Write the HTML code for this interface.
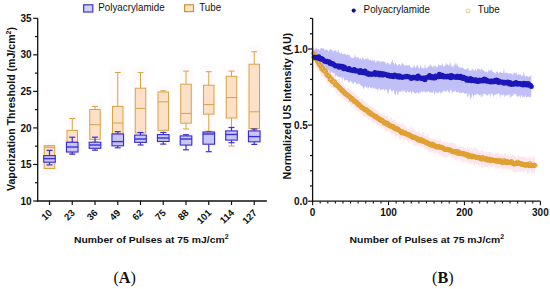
<!DOCTYPE html>
<html><head><meta charset="utf-8"><style>
html,body{margin:0;padding:0;background:#fff;width:550px;height:289px;overflow:hidden}
svg{display:block}
</style></head><body>
<svg width="550" height="289" viewBox="0 0 550 289">
<rect x="42.00" y="139.50" width="15" height="35.00" fill="#fffafb"/>
<rect x="64.75" y="112.50" width="15" height="46.50" fill="#fffafb"/>
<rect x="87.50" y="100.40" width="15" height="47.60" fill="#fffafb"/>
<rect x="110.25" y="66.50" width="15" height="79.50" fill="#fffafb"/>
<rect x="133.00" y="66.60" width="15" height="75.40" fill="#fffafb"/>
<rect x="155.75" y="84.80" width="15" height="53.70" fill="#fffafb"/>
<rect x="178.50" y="65.10" width="15" height="69.90" fill="#fffafb"/>
<rect x="201.25" y="65.70" width="15" height="71.50" fill="#fffafb"/>
<rect x="224.00" y="65.10" width="15" height="87.00" fill="#fffafb"/>
<rect x="246.75" y="45.80" width="15" height="91.20" fill="#fffafb"/>
<line x1="49.5" y1="145.5" x2="49.5" y2="145.7" stroke="#d6a444" stroke-width="1"/>
<line x1="49.5" y1="168.5" x2="49.5" y2="168.5" stroke="#d6a444" stroke-width="1"/>
<line x1="46.5" y1="145.5" x2="52.5" y2="145.5" stroke="#d6a444" stroke-width="1"/>
<line x1="46.5" y1="168.5" x2="52.5" y2="168.5" stroke="#d6a444" stroke-width="1"/>
<rect x="44.25" y="145.7" width="10.5" height="22.80" fill="#fde0c8" stroke="#d6a444" stroke-width="1"/>
<line x1="44.25" y1="147.3" x2="54.75" y2="147.3" stroke="#d6a444" stroke-width="1"/>
<line x1="72.25" y1="118.5" x2="72.25" y2="130.4" stroke="#d6a444" stroke-width="1"/>
<line x1="72.25" y1="150.0" x2="72.25" y2="153.0" stroke="#d6a444" stroke-width="1"/>
<line x1="69.25" y1="118.5" x2="75.25" y2="118.5" stroke="#d6a444" stroke-width="1"/>
<line x1="69.25" y1="153.0" x2="75.25" y2="153.0" stroke="#d6a444" stroke-width="1"/>
<rect x="67.00" y="130.4" width="10.5" height="19.60" fill="#fde0c8" stroke="#d6a444" stroke-width="1"/>
<line x1="67.00" y1="142.0" x2="77.50" y2="142.0" stroke="#d6a444" stroke-width="1"/>
<line x1="95.0" y1="106.4" x2="95.0" y2="109.5" stroke="#d6a444" stroke-width="1"/>
<line x1="95.0" y1="139.5" x2="95.0" y2="142.0" stroke="#d6a444" stroke-width="1"/>
<line x1="92.0" y1="106.4" x2="98.0" y2="106.4" stroke="#d6a444" stroke-width="1"/>
<line x1="92.0" y1="142.0" x2="98.0" y2="142.0" stroke="#d6a444" stroke-width="1"/>
<rect x="89.75" y="109.5" width="10.5" height="30.00" fill="#fde0c8" stroke="#d6a444" stroke-width="1"/>
<line x1="89.75" y1="124.7" x2="100.25" y2="124.7" stroke="#d6a444" stroke-width="1"/>
<line x1="117.75" y1="72.5" x2="117.75" y2="106.4" stroke="#d6a444" stroke-width="1"/>
<line x1="117.75" y1="134.0" x2="117.75" y2="140.0" stroke="#d6a444" stroke-width="1"/>
<line x1="114.75" y1="72.5" x2="120.75" y2="72.5" stroke="#d6a444" stroke-width="1"/>
<line x1="114.75" y1="140.0" x2="120.75" y2="140.0" stroke="#d6a444" stroke-width="1"/>
<rect x="112.50" y="106.4" width="10.5" height="27.60" fill="#fde0c8" stroke="#d6a444" stroke-width="1"/>
<line x1="112.50" y1="123.0" x2="123.00" y2="123.0" stroke="#d6a444" stroke-width="1"/>
<line x1="140.5" y1="72.6" x2="140.5" y2="88.2" stroke="#d6a444" stroke-width="1"/>
<line x1="140.5" y1="133.0" x2="140.5" y2="136.0" stroke="#d6a444" stroke-width="1"/>
<line x1="137.5" y1="72.6" x2="143.5" y2="72.6" stroke="#d6a444" stroke-width="1"/>
<line x1="137.5" y1="136.0" x2="143.5" y2="136.0" stroke="#d6a444" stroke-width="1"/>
<rect x="135.25" y="88.2" width="10.5" height="44.80" fill="#fde0c8" stroke="#d6a444" stroke-width="1"/>
<line x1="135.25" y1="108.4" x2="145.75" y2="108.4" stroke="#d6a444" stroke-width="1"/>
<line x1="163.25" y1="90.8" x2="163.25" y2="92.0" stroke="#d6a444" stroke-width="1"/>
<line x1="163.25" y1="130.3" x2="163.25" y2="132.5" stroke="#d6a444" stroke-width="1"/>
<line x1="160.25" y1="90.8" x2="166.25" y2="90.8" stroke="#d6a444" stroke-width="1"/>
<line x1="160.25" y1="132.5" x2="166.25" y2="132.5" stroke="#d6a444" stroke-width="1"/>
<rect x="158.00" y="92.0" width="10.5" height="38.30" fill="#fde0c8" stroke="#d6a444" stroke-width="1"/>
<line x1="158.00" y1="101.8" x2="168.50" y2="101.8" stroke="#d6a444" stroke-width="1"/>
<line x1="186.0" y1="71.1" x2="186.0" y2="84.2" stroke="#d6a444" stroke-width="1"/>
<line x1="186.0" y1="123.2" x2="186.0" y2="129.0" stroke="#d6a444" stroke-width="1"/>
<line x1="183.0" y1="71.1" x2="189.0" y2="71.1" stroke="#d6a444" stroke-width="1"/>
<line x1="183.0" y1="129.0" x2="189.0" y2="129.0" stroke="#d6a444" stroke-width="1"/>
<rect x="180.75" y="84.2" width="10.5" height="39.00" fill="#fde0c8" stroke="#d6a444" stroke-width="1"/>
<line x1="180.75" y1="113.4" x2="191.25" y2="113.4" stroke="#d6a444" stroke-width="1"/>
<line x1="208.75" y1="71.7" x2="208.75" y2="85.2" stroke="#d6a444" stroke-width="1"/>
<line x1="208.75" y1="114.1" x2="208.75" y2="131.2" stroke="#d6a444" stroke-width="1"/>
<line x1="205.75" y1="71.7" x2="211.75" y2="71.7" stroke="#d6a444" stroke-width="1"/>
<line x1="205.75" y1="131.2" x2="211.75" y2="131.2" stroke="#d6a444" stroke-width="1"/>
<rect x="203.50" y="85.2" width="10.5" height="28.90" fill="#fde0c8" stroke="#d6a444" stroke-width="1"/>
<line x1="203.50" y1="104.6" x2="214.00" y2="104.6" stroke="#d6a444" stroke-width="1"/>
<line x1="231.5" y1="71.1" x2="231.5" y2="76.3" stroke="#d6a444" stroke-width="1"/>
<line x1="231.5" y1="118.0" x2="231.5" y2="146.1" stroke="#d6a444" stroke-width="1"/>
<line x1="228.5" y1="71.1" x2="234.5" y2="71.1" stroke="#d6a444" stroke-width="1"/>
<line x1="228.5" y1="146.1" x2="234.5" y2="146.1" stroke="#d6a444" stroke-width="1"/>
<rect x="226.25" y="76.3" width="10.5" height="41.70" fill="#fde0c8" stroke="#d6a444" stroke-width="1"/>
<line x1="226.25" y1="97.6" x2="236.75" y2="97.6" stroke="#d6a444" stroke-width="1"/>
<line x1="254.25" y1="51.8" x2="254.25" y2="64.2" stroke="#d6a444" stroke-width="1"/>
<line x1="254.25" y1="128.5" x2="254.25" y2="131.0" stroke="#d6a444" stroke-width="1"/>
<line x1="251.25" y1="51.8" x2="257.25" y2="51.8" stroke="#d6a444" stroke-width="1"/>
<line x1="251.25" y1="131.0" x2="257.25" y2="131.0" stroke="#d6a444" stroke-width="1"/>
<rect x="249.00" y="64.2" width="10.5" height="64.30" fill="#fde0c8" stroke="#d6a444" stroke-width="1"/>
<line x1="249.00" y1="111.8" x2="259.50" y2="111.8" stroke="#d6a444" stroke-width="1"/>
<line x1="49.5" y1="150.4" x2="49.5" y2="155.6" stroke="#3c30d4" stroke-width="1.2"/>
<line x1="49.5" y1="162.2" x2="49.5" y2="164.9" stroke="#3c30d4" stroke-width="1.2"/>
<line x1="46.5" y1="150.4" x2="52.5" y2="150.4" stroke="#3c30d4" stroke-width="1.2"/>
<line x1="46.5" y1="164.9" x2="52.5" y2="164.9" stroke="#3c30d4" stroke-width="1.2"/>
<rect x="43.70" y="155.6" width="11.6" height="6.60" fill="#c8c6f4" stroke="#3c30d4" stroke-width="1.15"/>
<line x1="43.70" y1="158.6" x2="55.30" y2="158.6" stroke="#3c30d4" stroke-width="1.4"/>
<line x1="72.25" y1="137.2" x2="72.25" y2="142.3" stroke="#3c30d4" stroke-width="1.2"/>
<line x1="72.25" y1="152.0" x2="72.25" y2="154.2" stroke="#3c30d4" stroke-width="1.2"/>
<line x1="69.25" y1="137.2" x2="75.25" y2="137.2" stroke="#3c30d4" stroke-width="1.2"/>
<line x1="69.25" y1="154.2" x2="75.25" y2="154.2" stroke="#3c30d4" stroke-width="1.2"/>
<rect x="66.45" y="142.3" width="11.6" height="9.70" fill="#c8c6f4" stroke="#3c30d4" stroke-width="1.15"/>
<line x1="66.45" y1="147.0" x2="78.05" y2="147.0" stroke="#3c30d4" stroke-width="1.4"/>
<line x1="95.0" y1="137.2" x2="95.0" y2="142.2" stroke="#3c30d4" stroke-width="1.2"/>
<line x1="95.0" y1="148.3" x2="95.0" y2="150.2" stroke="#3c30d4" stroke-width="1.2"/>
<line x1="92.0" y1="137.2" x2="98.0" y2="137.2" stroke="#3c30d4" stroke-width="1.2"/>
<line x1="92.0" y1="150.2" x2="98.0" y2="150.2" stroke="#3c30d4" stroke-width="1.2"/>
<rect x="89.20" y="142.2" width="11.6" height="6.10" fill="#c8c6f4" stroke="#3c30d4" stroke-width="1.15"/>
<line x1="89.20" y1="145.0" x2="100.80" y2="145.0" stroke="#3c30d4" stroke-width="1.4"/>
<line x1="117.75" y1="131.7" x2="117.75" y2="134.0" stroke="#3c30d4" stroke-width="1.2"/>
<line x1="117.75" y1="145.8" x2="117.75" y2="147.8" stroke="#3c30d4" stroke-width="1.2"/>
<line x1="114.75" y1="131.7" x2="120.75" y2="131.7" stroke="#3c30d4" stroke-width="1.2"/>
<line x1="114.75" y1="147.8" x2="120.75" y2="147.8" stroke="#3c30d4" stroke-width="1.2"/>
<rect x="111.95" y="134.0" width="11.6" height="11.80" fill="#c8c6f4" stroke="#3c30d4" stroke-width="1.15"/>
<line x1="111.95" y1="141.6" x2="123.55" y2="141.6" stroke="#3c30d4" stroke-width="1.4"/>
<line x1="140.5" y1="132.5" x2="140.5" y2="135.1" stroke="#3c30d4" stroke-width="1.2"/>
<line x1="140.5" y1="142.4" x2="140.5" y2="145.0" stroke="#3c30d4" stroke-width="1.2"/>
<line x1="137.5" y1="132.5" x2="143.5" y2="132.5" stroke="#3c30d4" stroke-width="1.2"/>
<line x1="137.5" y1="145.0" x2="143.5" y2="145.0" stroke="#3c30d4" stroke-width="1.2"/>
<rect x="134.70" y="135.1" width="11.6" height="7.30" fill="#c8c6f4" stroke="#3c30d4" stroke-width="1.15"/>
<line x1="134.70" y1="139.0" x2="146.30" y2="139.0" stroke="#3c30d4" stroke-width="1.4"/>
<line x1="163.25" y1="132.5" x2="163.25" y2="134.6" stroke="#3c30d4" stroke-width="1.2"/>
<line x1="163.25" y1="141.5" x2="163.25" y2="144.1" stroke="#3c30d4" stroke-width="1.2"/>
<line x1="160.25" y1="132.5" x2="166.25" y2="132.5" stroke="#3c30d4" stroke-width="1.2"/>
<line x1="160.25" y1="144.1" x2="166.25" y2="144.1" stroke="#3c30d4" stroke-width="1.2"/>
<rect x="157.45" y="134.6" width="11.6" height="6.90" fill="#c8c6f4" stroke="#3c30d4" stroke-width="1.15"/>
<line x1="157.45" y1="138.0" x2="169.05" y2="138.0" stroke="#3c30d4" stroke-width="1.4"/>
<line x1="186.0" y1="134.7" x2="186.0" y2="135.9" stroke="#3c30d4" stroke-width="1.2"/>
<line x1="186.0" y1="145.1" x2="186.0" y2="149.8" stroke="#3c30d4" stroke-width="1.2"/>
<line x1="183.0" y1="134.7" x2="189.0" y2="134.7" stroke="#3c30d4" stroke-width="1.2"/>
<line x1="183.0" y1="149.8" x2="189.0" y2="149.8" stroke="#3c30d4" stroke-width="1.2"/>
<rect x="180.20" y="135.9" width="11.6" height="9.20" fill="#c8c6f4" stroke="#3c30d4" stroke-width="1.15"/>
<line x1="180.20" y1="139.0" x2="191.80" y2="139.0" stroke="#3c30d4" stroke-width="1.4"/>
<line x1="208.75" y1="132.1" x2="208.75" y2="132.0" stroke="#3c30d4" stroke-width="1.2"/>
<line x1="208.75" y1="144.2" x2="208.75" y2="151.7" stroke="#3c30d4" stroke-width="1.2"/>
<line x1="205.75" y1="132.1" x2="211.75" y2="132.1" stroke="#3c30d4" stroke-width="1.2"/>
<line x1="205.75" y1="151.7" x2="211.75" y2="151.7" stroke="#3c30d4" stroke-width="1.2"/>
<rect x="202.95" y="132.0" width="11.6" height="12.20" fill="#c8c6f4" stroke="#3c30d4" stroke-width="1.15"/>
<line x1="202.95" y1="134.0" x2="214.55" y2="134.0" stroke="#3c30d4" stroke-width="1.4"/>
<line x1="231.5" y1="127.5" x2="231.5" y2="130.9" stroke="#3c30d4" stroke-width="1.2"/>
<line x1="231.5" y1="140.1" x2="231.5" y2="142.7" stroke="#3c30d4" stroke-width="1.2"/>
<line x1="228.5" y1="127.5" x2="234.5" y2="127.5" stroke="#3c30d4" stroke-width="1.2"/>
<line x1="228.5" y1="142.7" x2="234.5" y2="142.7" stroke="#3c30d4" stroke-width="1.2"/>
<rect x="225.70" y="130.9" width="11.6" height="9.20" fill="#c8c6f4" stroke="#3c30d4" stroke-width="1.15"/>
<line x1="225.70" y1="134.5" x2="237.30" y2="134.5" stroke="#3c30d4" stroke-width="1.4"/>
<line x1="254.25" y1="129.0" x2="254.25" y2="130.9" stroke="#3c30d4" stroke-width="1.2"/>
<line x1="254.25" y1="141.8" x2="254.25" y2="144.4" stroke="#3c30d4" stroke-width="1.2"/>
<line x1="251.25" y1="129.0" x2="257.25" y2="129.0" stroke="#3c30d4" stroke-width="1.2"/>
<line x1="251.25" y1="144.4" x2="257.25" y2="144.4" stroke="#3c30d4" stroke-width="1.2"/>
<rect x="248.45" y="130.9" width="11.6" height="10.90" fill="#c8c6f4" stroke="#3c30d4" stroke-width="1.15"/>
<line x1="248.45" y1="136.6" x2="260.05" y2="136.6" stroke="#3c30d4" stroke-width="1.4"/>
<line x1="37.7" y1="18.3" x2="37.7" y2="201.6" stroke="#111" stroke-width="1.3"/>
<line x1="37.1" y1="201.0" x2="266.9" y2="201.0" stroke="#111" stroke-width="1.3"/>
<line x1="33.2" y1="201.00" x2="37.7" y2="201.00" stroke="#111" stroke-width="1.2"/>
<text x="31.6" y="204.60" text-anchor="end" style="font-family:'Liberation Sans',sans-serif;font-weight:bold;font-size:10px" fill="#111">10</text>
<line x1="34.900000000000006" y1="182.73" x2="37.7" y2="182.73" stroke="#111" stroke-width="1.2"/>
<line x1="33.2" y1="164.46" x2="37.7" y2="164.46" stroke="#111" stroke-width="1.2"/>
<text x="31.6" y="168.06" text-anchor="end" style="font-family:'Liberation Sans',sans-serif;font-weight:bold;font-size:10px" fill="#111">15</text>
<line x1="34.900000000000006" y1="146.19" x2="37.7" y2="146.19" stroke="#111" stroke-width="1.2"/>
<line x1="33.2" y1="127.92" x2="37.7" y2="127.92" stroke="#111" stroke-width="1.2"/>
<text x="31.6" y="131.52" text-anchor="end" style="font-family:'Liberation Sans',sans-serif;font-weight:bold;font-size:10px" fill="#111">20</text>
<line x1="34.900000000000006" y1="109.65" x2="37.7" y2="109.65" stroke="#111" stroke-width="1.2"/>
<line x1="33.2" y1="91.38" x2="37.7" y2="91.38" stroke="#111" stroke-width="1.2"/>
<text x="31.6" y="94.98" text-anchor="end" style="font-family:'Liberation Sans',sans-serif;font-weight:bold;font-size:10px" fill="#111">25</text>
<line x1="34.900000000000006" y1="73.11" x2="37.7" y2="73.11" stroke="#111" stroke-width="1.2"/>
<line x1="33.2" y1="54.84" x2="37.7" y2="54.84" stroke="#111" stroke-width="1.2"/>
<text x="31.6" y="58.44" text-anchor="end" style="font-family:'Liberation Sans',sans-serif;font-weight:bold;font-size:10px" fill="#111">30</text>
<line x1="34.900000000000006" y1="36.57" x2="37.7" y2="36.57" stroke="#111" stroke-width="1.2"/>
<line x1="33.2" y1="18.30" x2="37.7" y2="18.30" stroke="#111" stroke-width="1.2"/>
<text x="31.6" y="21.90" text-anchor="end" style="font-family:'Liberation Sans',sans-serif;font-weight:bold;font-size:10px" fill="#111">35</text>
<line x1="49.5" y1="201.0" x2="49.5" y2="205.0" stroke="#111" stroke-width="1.2"/>
<text transform="translate(52.70,213.40) rotate(-45)" text-anchor="end" style="font-family:'Liberation Sans',sans-serif;font-weight:bold;font-size:9.6px" fill="#111">10</text>
<line x1="72.25" y1="201.0" x2="72.25" y2="205.0" stroke="#111" stroke-width="1.2"/>
<text transform="translate(75.45,213.40) rotate(-45)" text-anchor="end" style="font-family:'Liberation Sans',sans-serif;font-weight:bold;font-size:9.6px" fill="#111">23</text>
<line x1="95.0" y1="201.0" x2="95.0" y2="205.0" stroke="#111" stroke-width="1.2"/>
<text transform="translate(98.20,213.40) rotate(-45)" text-anchor="end" style="font-family:'Liberation Sans',sans-serif;font-weight:bold;font-size:9.6px" fill="#111">36</text>
<line x1="117.75" y1="201.0" x2="117.75" y2="205.0" stroke="#111" stroke-width="1.2"/>
<text transform="translate(120.95,213.40) rotate(-45)" text-anchor="end" style="font-family:'Liberation Sans',sans-serif;font-weight:bold;font-size:9.6px" fill="#111">49</text>
<line x1="140.5" y1="201.0" x2="140.5" y2="205.0" stroke="#111" stroke-width="1.2"/>
<text transform="translate(143.70,213.40) rotate(-45)" text-anchor="end" style="font-family:'Liberation Sans',sans-serif;font-weight:bold;font-size:9.6px" fill="#111">62</text>
<line x1="163.25" y1="201.0" x2="163.25" y2="205.0" stroke="#111" stroke-width="1.2"/>
<text transform="translate(166.45,213.40) rotate(-45)" text-anchor="end" style="font-family:'Liberation Sans',sans-serif;font-weight:bold;font-size:9.6px" fill="#111">75</text>
<line x1="186.0" y1="201.0" x2="186.0" y2="205.0" stroke="#111" stroke-width="1.2"/>
<text transform="translate(189.20,213.40) rotate(-45)" text-anchor="end" style="font-family:'Liberation Sans',sans-serif;font-weight:bold;font-size:9.6px" fill="#111">88</text>
<line x1="208.75" y1="201.0" x2="208.75" y2="205.0" stroke="#111" stroke-width="1.2"/>
<text transform="translate(211.95,213.40) rotate(-45)" text-anchor="end" style="font-family:'Liberation Sans',sans-serif;font-weight:bold;font-size:9.6px" fill="#111">101</text>
<line x1="231.5" y1="201.0" x2="231.5" y2="205.0" stroke="#111" stroke-width="1.2"/>
<text transform="translate(234.70,213.40) rotate(-45)" text-anchor="end" style="font-family:'Liberation Sans',sans-serif;font-weight:bold;font-size:9.6px" fill="#111">114</text>
<line x1="254.25" y1="201.0" x2="254.25" y2="205.0" stroke="#111" stroke-width="1.2"/>
<text transform="translate(257.45,213.40) rotate(-45)" text-anchor="end" style="font-family:'Liberation Sans',sans-serif;font-weight:bold;font-size:9.6px" fill="#111">127</text>
<text transform="translate(74,243.2) scale(1,0.93)" style="font-family:'Liberation Sans',sans-serif;font-weight:bold;font-size:10.4px" fill="#111">Number of Pulses at 75 mJ/cm<tspan dy="-4" font-size="7px">2</tspan></text>
<text transform="translate(14.6,109.0) rotate(-90)" text-anchor="middle" style="font-family:'Liberation Sans',sans-serif;font-weight:bold;font-size:10.55px" fill="#111">Vaporization Threshold (mJ/cm<tspan dy="-4" font-size="7px">2</tspan><tspan dy="4">)</tspan></text>
<rect x="83.6" y="4.8" width="9.2" height="7.2" fill="#d4d2f8" stroke="#4a40c0" stroke-width="1.3"/>
<text transform="translate(98.3,11.2) scale(1,1.08)" style="font-family:'Liberation Sans',sans-serif;font-size:9.8px" fill="#111">Polyacrylamide</text>
<rect x="184.6" y="4.8" width="8.9" height="6.8" fill="#fde6c0" stroke="#d09040" stroke-width="1.2"/>
<text transform="translate(199.2,11.2) scale(1,1.08)" style="font-family:'Liberation Sans',sans-serif;font-size:9.8px" fill="#111">Tube</text>
<text x="124.7" y="282.6" text-anchor="middle" style="font-family:'Liberation Serif',serif;font-size:16.2px" fill="#111">(<tspan font-weight="bold">A</tspan>)</text>
<path d="M312.60,49.81 L313.36,47.80 L314.12,50.34 L314.88,49.97 L315.64,48.48 L316.40,47.51 L317.16,49.32 L317.92,49.77 L318.67,48.37 L319.43,50.15 L320.19,49.15 L320.95,47.46 L321.71,48.35 L322.47,48.22 L323.23,48.61 L323.99,48.43 L324.75,50.62 L325.51,49.44 L326.27,50.11 L327.03,48.83 L327.79,51.07 L328.55,51.57 L329.31,50.59 L330.06,48.95 L330.82,49.06 L331.58,49.91 L332.34,49.79 L333.10,52.50 L333.86,50.77 L334.62,50.22 L335.38,50.62 L336.14,50.34 L336.90,52.76 L337.66,51.98 L338.42,49.15 L339.18,53.62 L339.94,52.17 L340.70,54.51 L341.45,52.14 L342.21,53.93 L342.97,53.93 L343.73,54.18 L344.49,53.63 L345.25,53.70 L346.01,54.44 L346.77,55.35 L347.53,54.28 L348.29,54.72 L349.05,55.00 L349.81,54.69 L350.57,57.35 L351.33,57.66 L352.09,57.78 L352.84,57.99 L353.60,57.98 L354.36,56.97 L355.12,53.88 L355.88,58.41 L356.64,56.44 L357.40,57.14 L358.16,58.22 L358.92,56.79 L359.68,59.64 L360.44,57.59 L361.20,59.65 L361.96,59.05 L362.72,56.52 L363.48,58.16 L364.23,60.18 L364.99,59.06 L365.75,58.83 L366.51,59.19 L367.27,59.14 L368.03,57.33 L368.79,60.34 L369.55,60.30 L370.31,59.82 L371.07,60.19 L371.83,60.98 L372.59,59.80 L373.35,61.25 L374.11,59.93 L374.87,60.36 L375.62,62.96 L376.38,61.60 L377.14,59.63 L377.90,62.34 L378.66,60.60 L379.42,60.66 L380.18,62.66 L380.94,61.57 L381.70,61.00 L382.46,61.82 L383.22,61.25 L383.98,61.85 L384.74,61.98 L385.50,62.16 L386.26,64.43 L387.01,62.93 L387.77,62.43 L388.53,62.96 L389.29,64.80 L390.05,64.35 L390.81,63.34 L391.57,61.87 L392.33,59.59 L393.09,62.68 L393.85,63.22 L394.61,65.18 L395.37,62.04 L396.13,63.77 L396.89,65.21 L397.65,65.92 L398.40,64.70 L399.16,64.14 L399.92,64.04 L400.68,65.90 L401.44,64.77 L402.20,62.52 L402.96,63.93 L403.72,64.22 L404.48,65.40 L405.24,66.18 L406.00,64.61 L406.76,65.46 L407.52,65.18 L408.28,65.51 L409.04,65.32 L409.79,65.03 L410.55,67.56 L411.31,67.83 L412.07,67.61 L412.83,67.94 L413.59,65.85 L414.35,65.08 L415.11,67.42 L415.87,67.87 L416.63,65.48 L417.39,64.99 L418.15,66.71 L418.91,68.46 L419.67,68.14 L420.43,64.68 L421.18,66.42 L421.94,68.62 L422.70,67.36 L423.46,68.57 L424.22,68.65 L424.98,63.30 L425.74,68.38 L426.50,67.98 L427.26,68.06 L428.02,67.09 L428.78,66.06 L429.54,65.56 L430.30,64.28 L431.06,66.63 L431.82,65.38 L432.57,67.56 L433.33,66.64 L434.09,64.13 L434.85,67.47 L435.61,65.17 L436.37,67.22 L437.13,66.44 L437.89,67.27 L438.65,62.95 L439.41,65.23 L440.17,65.53 L440.93,65.16 L441.69,65.13 L442.45,62.82 L443.21,67.16 L443.96,65.64 L444.72,66.13 L445.48,64.87 L446.24,62.65 L447.00,65.16 L447.76,63.69 L448.52,66.27 L449.28,62.64 L450.04,66.27 L450.80,61.05 L451.56,66.84 L452.32,66.22 L453.08,67.39 L453.84,64.76 L454.60,64.84 L455.35,62.26 L456.11,66.68 L456.87,62.67 L457.63,65.00 L458.39,67.42 L459.15,65.52 L459.91,68.14 L460.67,67.13 L461.43,67.95 L462.19,66.28 L462.95,69.28 L463.71,67.64 L464.47,68.94 L465.23,69.59 L465.99,69.45 L466.74,69.36 L467.50,68.02 L468.26,68.03 L469.02,70.32 L469.78,70.78 L470.54,71.28 L471.30,69.27 L472.06,70.82 L472.82,67.76 L473.58,69.70 L474.34,71.70 L475.10,68.86 L475.86,69.76 L476.62,71.27 L477.38,68.65 L478.13,68.61 L478.89,69.11 L479.65,69.30 L480.41,70.68 L481.17,67.73 L481.93,70.09 L482.69,69.11 L483.45,70.69 L484.21,70.72 L484.97,71.43 L485.73,72.17 L486.49,71.11 L487.25,72.60 L488.01,72.21 L488.77,69.34 L489.52,71.01 L490.28,69.57 L491.04,71.19 L491.80,68.76 L492.56,72.25 L493.32,72.03 L494.08,72.61 L494.84,73.13 L495.60,73.60 L496.36,72.05 L497.12,70.77 L497.88,72.62 L498.64,74.12 L499.40,72.57 L500.16,71.96 L500.91,71.85 L501.67,73.16 L502.43,72.93 L503.19,72.95 L503.95,68.05 L504.71,73.18 L505.47,72.66 L506.23,72.72 L506.99,72.52 L507.75,73.61 L508.51,73.34 L509.27,73.76 L510.03,73.49 L510.79,73.26 L511.55,73.44 L512.30,73.99 L513.06,75.59 L513.82,71.69 L514.58,73.06 L515.34,73.87 L516.10,72.18 L516.86,73.83 L517.62,75.43 L518.38,74.12 L519.14,74.95 L519.90,74.44 L520.66,74.27 L521.42,76.53 L522.18,75.73 L522.94,75.41 L523.69,71.25 L524.45,75.35 L525.21,77.15 L525.97,75.58 L526.73,76.24 L527.49,76.04 L528.25,77.36 L529.01,76.50 L529.77,76.07 L530.53,77.09 L531.29,73.62 L531.29,95.51 L530.53,97.64 L529.77,96.16 L529.01,98.06 L528.25,96.27 L527.49,96.64 L526.73,97.21 L525.97,97.41 L525.21,94.85 L524.45,97.62 L523.69,96.42 L522.94,97.40 L522.18,96.44 L521.42,94.38 L520.66,98.69 L519.90,94.63 L519.14,96.78 L518.38,96.13 L517.62,96.66 L516.86,96.57 L516.10,94.28 L515.34,94.05 L514.58,93.70 L513.82,94.01 L513.06,96.08 L512.30,95.35 L511.55,97.54 L510.79,94.56 L510.03,99.46 L509.27,94.07 L508.51,95.06 L507.75,94.78 L506.99,95.38 L506.23,95.41 L505.47,95.18 L504.71,97.84 L503.95,93.68 L503.19,95.10 L502.43,95.61 L501.67,94.64 L500.91,94.40 L500.16,98.06 L499.40,94.05 L498.64,93.08 L497.88,94.35 L497.12,94.33 L496.36,94.28 L495.60,94.38 L494.84,94.94 L494.08,94.50 L493.32,97.64 L492.56,94.06 L491.80,93.31 L491.04,93.98 L490.28,97.17 L489.52,94.23 L488.77,93.69 L488.01,94.73 L487.25,95.91 L486.49,94.67 L485.73,94.41 L484.97,93.55 L484.21,94.17 L483.45,93.79 L482.69,97.13 L481.93,93.99 L481.17,98.82 L480.41,94.45 L479.65,95.86 L478.89,94.56 L478.13,94.60 L477.38,93.79 L476.62,93.51 L475.86,95.41 L475.10,94.59 L474.34,94.91 L473.58,98.12 L472.82,94.47 L472.06,94.42 L471.30,97.89 L470.54,99.76 L469.78,95.45 L469.02,92.99 L468.26,96.74 L467.50,97.25 L466.74,92.44 L465.99,93.72 L465.23,93.91 L464.47,93.62 L463.71,92.14 L462.95,93.47 L462.19,91.81 L461.43,93.73 L460.67,93.01 L459.91,92.58 L459.15,93.72 L458.39,91.41 L457.63,92.39 L456.87,92.35 L456.11,92.09 L455.35,90.22 L454.60,91.93 L453.84,91.15 L453.08,91.73 L452.32,93.84 L451.56,90.67 L450.80,89.72 L450.04,90.83 L449.28,93.84 L448.52,91.86 L447.76,90.84 L447.00,89.28 L446.24,92.30 L445.48,91.64 L444.72,90.56 L443.96,91.95 L443.21,89.94 L442.45,92.31 L441.69,92.12 L440.93,95.01 L440.17,91.42 L439.41,91.48 L438.65,92.73 L437.89,92.90 L437.13,93.05 L436.37,92.69 L435.61,90.73 L434.85,95.39 L434.09,93.45 L433.33,90.82 L432.57,92.90 L431.82,92.47 L431.06,92.65 L430.30,91.65 L429.54,93.30 L428.78,90.96 L428.02,92.05 L427.26,91.50 L426.50,91.68 L425.74,92.93 L424.98,91.29 L424.22,91.78 L423.46,91.57 L422.70,91.73 L421.94,91.62 L421.18,91.46 L420.43,92.69 L419.67,92.08 L418.91,94.39 L418.15,93.02 L417.39,92.10 L416.63,93.10 L415.87,92.75 L415.11,94.25 L414.35,92.92 L413.59,92.00 L412.83,91.14 L412.07,92.09 L411.31,94.80 L410.55,90.72 L409.79,91.95 L409.04,92.88 L408.28,91.57 L407.52,90.77 L406.76,92.46 L406.00,92.69 L405.24,92.34 L404.48,90.73 L403.72,90.24 L402.96,92.53 L402.20,90.00 L401.44,92.08 L400.68,91.49 L399.92,92.00 L399.16,90.80 L398.40,94.76 L397.65,94.75 L396.89,90.21 L396.13,92.05 L395.37,95.17 L394.61,94.13 L393.85,90.02 L393.09,90.26 L392.33,91.22 L391.57,91.54 L390.81,89.58 L390.05,88.60 L389.29,89.41 L388.53,93.78 L387.77,93.96 L387.01,90.17 L386.26,89.58 L385.50,88.67 L384.74,90.83 L383.98,90.23 L383.22,88.77 L382.46,89.67 L381.70,89.08 L380.94,90.39 L380.18,90.07 L379.42,88.25 L378.66,88.43 L377.90,91.79 L377.14,89.05 L376.38,88.69 L375.62,89.13 L374.87,87.35 L374.11,89.38 L373.35,88.50 L372.59,86.76 L371.83,89.44 L371.07,87.32 L370.31,87.94 L369.55,86.45 L368.79,87.28 L368.03,89.99 L367.27,86.15 L366.51,88.06 L365.75,85.74 L364.99,86.56 L364.23,87.58 L363.48,89.70 L362.72,86.13 L361.96,86.12 L361.20,85.63 L360.44,84.63 L359.68,84.02 L358.92,83.35 L358.16,83.90 L357.40,83.70 L356.64,85.14 L355.88,82.13 L355.12,82.32 L354.36,81.74 L353.60,83.55 L352.84,84.65 L352.09,81.61 L351.33,82.06 L350.57,80.39 L349.81,82.64 L349.05,81.13 L348.29,83.34 L347.53,79.74 L346.77,80.38 L346.01,79.51 L345.25,79.91 L344.49,81.01 L343.73,78.55 L342.97,76.57 L342.21,81.74 L341.45,76.21 L340.70,77.48 L339.94,77.47 L339.18,77.11 L338.42,76.81 L337.66,76.88 L336.90,75.70 L336.14,74.93 L335.38,76.50 L334.62,72.95 L333.86,72.99 L333.10,73.13 L332.34,72.40 L331.58,71.36 L330.82,72.73 L330.06,74.26 L329.31,70.55 L328.55,69.93 L327.79,69.64 L327.03,70.48 L326.27,71.62 L325.51,67.20 L324.75,67.58 L323.99,69.20 L323.23,67.42 L322.47,67.06 L321.71,67.52 L320.95,67.25 L320.19,64.19 L319.43,64.19 L318.67,66.84 L317.92,62.68 L317.16,65.94 L316.40,62.78 L315.64,61.08 L314.88,60.35 L314.12,60.44 L313.36,61.27 L312.60,64.02Z" fill="#c0c0f6"/>
<path d="M312.60,44.05 L313.36,46.53 L314.12,46.72 L314.88,47.72 L315.64,50.02 L316.40,51.44 L317.16,52.96 L317.92,55.81 L318.67,56.07 L319.43,58.68 L320.19,60.08 L320.95,57.66 L321.71,60.90 L322.47,60.25 L323.23,63.36 L323.99,63.68 L324.75,64.59 L325.51,63.51 L326.27,65.88 L327.03,68.57 L327.79,67.63 L328.55,69.01 L329.31,70.10 L330.06,68.74 L330.82,71.42 L331.58,73.74 L332.34,74.11 L333.10,75.70 L333.86,73.82 L334.62,73.48 L335.38,74.65 L336.14,78.83 L336.90,78.69 L337.66,79.67 L338.42,78.07 L339.18,78.49 L339.94,82.32 L340.70,80.55 L341.45,80.38 L342.21,80.97 L342.97,85.49 L343.73,83.64 L344.49,86.62 L345.25,84.72 L346.01,84.88 L346.77,88.77 L347.53,87.38 L348.29,87.65 L349.05,87.83 L349.81,89.10 L350.57,90.66 L351.33,89.84 L352.09,90.49 L352.84,93.09 L353.60,91.00 L354.36,92.21 L355.12,93.72 L355.88,93.44 L356.64,96.14 L357.40,94.43 L358.16,95.84 L358.92,95.60 L359.68,98.64 L360.44,99.31 L361.20,98.59 L361.96,97.97 L362.72,98.76 L363.48,99.19 L364.23,102.13 L364.99,100.55 L365.75,100.68 L366.51,104.54 L367.27,102.24 L368.03,102.97 L368.79,105.57 L369.55,104.32 L370.31,106.73 L371.07,105.08 L371.83,106.76 L372.59,105.89 L373.35,108.69 L374.11,106.54 L374.87,108.55 L375.62,108.77 L376.38,110.85 L377.14,109.31 L377.90,110.34 L378.66,111.01 L379.42,113.38 L380.18,112.53 L380.94,111.97 L381.70,114.34 L382.46,114.05 L383.22,115.80 L383.98,112.38 L384.74,114.85 L385.50,116.19 L386.26,115.98 L387.01,115.06 L387.77,114.71 L388.53,118.84 L389.29,118.70 L390.05,119.65 L390.81,116.79 L391.57,116.91 L392.33,120.86 L393.09,119.94 L393.85,118.10 L394.61,120.08 L395.37,118.92 L396.13,121.57 L396.89,122.90 L397.65,119.97 L398.40,124.17 L399.16,123.31 L399.92,121.48 L400.68,125.30 L401.44,123.03 L402.20,122.30 L402.96,126.04 L403.72,123.23 L404.48,126.16 L405.24,124.69 L406.00,126.79 L406.76,127.94 L407.52,128.12 L408.28,128.58 L409.04,129.45 L409.79,129.07 L410.55,126.49 L411.31,126.81 L412.07,127.33 L412.83,129.43 L413.59,127.84 L414.35,129.38 L415.11,130.86 L415.87,130.64 L416.63,132.31 L417.39,132.98 L418.15,131.31 L418.91,130.36 L419.67,132.51 L420.43,133.39 L421.18,133.45 L421.94,133.13 L422.70,131.79 L423.46,131.79 L424.22,132.43 L424.98,135.47 L425.74,135.47 L426.50,136.10 L427.26,133.24 L428.02,133.79 L428.78,136.62 L429.54,137.84 L430.30,137.18 L431.06,138.57 L431.82,137.55 L432.57,139.19 L433.33,137.37 L434.09,138.00 L434.85,139.14 L435.61,139.73 L436.37,137.47 L437.13,140.03 L437.89,140.73 L438.65,139.36 L439.41,140.78 L440.17,139.03 L440.93,139.78 L441.69,142.10 L442.45,140.98 L443.21,142.64 L443.96,141.77 L444.72,139.89 L445.48,143.53 L446.24,141.93 L447.00,143.00 L447.76,140.98 L448.52,143.88 L449.28,142.39 L450.04,142.92 L450.80,143.16 L451.56,142.59 L452.32,142.20 L453.08,143.04 L453.84,143.10 L454.60,142.83 L455.35,144.55 L456.11,144.62 L456.87,146.87 L457.63,146.26 L458.39,146.95 L459.15,144.30 L459.91,147.38 L460.67,147.18 L461.43,145.76 L462.19,146.26 L462.95,148.13 L463.71,145.86 L464.47,148.43 L465.23,147.10 L465.99,148.80 L466.74,148.92 L467.50,146.21 L468.26,147.54 L469.02,149.34 L469.78,146.43 L470.54,148.66 L471.30,148.41 L472.06,146.92 L472.82,149.49 L473.58,149.67 L474.34,147.25 L475.10,147.68 L475.86,148.10 L476.62,149.58 L477.38,148.07 L478.13,150.27 L478.89,150.65 L479.65,151.98 L480.41,150.39 L481.17,151.99 L481.93,149.59 L482.69,150.31 L483.45,149.44 L484.21,152.98 L484.97,152.19 L485.73,152.30 L486.49,149.83 L487.25,152.66 L488.01,152.06 L488.77,152.78 L489.52,151.47 L490.28,151.81 L491.04,152.26 L491.80,152.57 L492.56,153.97 L493.32,154.16 L494.08,153.18 L494.84,153.95 L495.60,152.86 L496.36,152.73 L497.12,152.68 L497.88,152.56 L498.64,153.32 L499.40,153.75 L500.16,154.77 L500.91,153.80 L501.67,153.62 L502.43,154.67 L503.19,155.23 L503.95,154.33 L504.71,152.45 L505.47,153.42 L506.23,156.35 L506.99,154.96 L507.75,155.27 L508.51,153.99 L509.27,156.13 L510.03,154.18 L510.79,155.89 L511.55,154.63 L512.30,154.03 L513.06,155.46 L513.82,154.66 L514.58,155.83 L515.34,154.99 L516.10,157.41 L516.86,158.00 L517.62,155.77 L518.38,154.36 L519.14,156.63 L519.90,154.90 L520.66,156.97 L521.42,156.75 L522.18,157.50 L522.94,156.54 L523.69,157.56 L524.45,155.54 L525.21,157.25 L525.97,157.90 L526.73,156.90 L527.49,158.94 L528.25,158.08 L529.01,156.11 L529.77,158.73 L530.53,155.99 L531.29,159.53 L532.05,157.81 L532.81,156.79 L533.57,155.98 L534.33,157.98 L535.08,158.57 L535.08,172.56 L534.33,173.79 L533.57,173.04 L532.81,173.04 L532.05,174.48 L531.29,172.98 L530.53,170.68 L529.77,172.26 L529.01,174.30 L528.25,173.75 L527.49,173.97 L526.73,172.53 L525.97,170.70 L525.21,170.77 L524.45,171.94 L523.69,173.00 L522.94,171.30 L522.18,171.23 L521.42,172.47 L520.66,171.30 L519.90,171.82 L519.14,172.44 L518.38,171.49 L517.62,171.10 L516.86,172.08 L516.10,172.41 L515.34,172.48 L514.58,171.87 L513.82,171.67 L513.06,171.49 L512.30,171.72 L511.55,170.80 L510.79,169.64 L510.03,168.75 L509.27,171.87 L508.51,168.36 L507.75,169.58 L506.99,167.97 L506.23,171.10 L505.47,168.14 L504.71,168.58 L503.95,168.43 L503.19,169.41 L502.43,170.52 L501.67,167.01 L500.91,168.39 L500.16,167.63 L499.40,167.87 L498.64,168.97 L497.88,168.24 L497.12,167.09 L496.36,168.45 L495.60,169.41 L494.84,166.28 L494.08,166.96 L493.32,166.86 L492.56,166.06 L491.80,167.57 L491.04,166.38 L490.28,169.01 L489.52,165.54 L488.77,166.15 L488.01,168.60 L487.25,166.74 L486.49,167.01 L485.73,166.56 L484.97,166.97 L484.21,166.69 L483.45,167.52 L482.69,167.08 L481.93,167.44 L481.17,167.43 L480.41,163.49 L479.65,164.99 L478.89,165.23 L478.13,165.49 L477.38,163.80 L476.62,166.48 L475.86,162.71 L475.10,165.59 L474.34,165.39 L473.58,163.76 L472.82,162.81 L472.06,164.79 L471.30,163.10 L470.54,164.71 L469.78,162.73 L469.02,164.31 L468.26,163.81 L467.50,161.24 L466.74,162.84 L465.99,161.91 L465.23,161.22 L464.47,161.89 L463.71,159.91 L462.95,163.02 L462.19,162.16 L461.43,161.46 L460.67,159.03 L459.91,161.56 L459.15,158.68 L458.39,159.36 L457.63,158.89 L456.87,161.82 L456.11,159.89 L455.35,159.58 L454.60,161.13 L453.84,157.35 L453.08,158.41 L452.32,157.95 L451.56,159.71 L450.80,156.70 L450.04,157.78 L449.28,155.79 L448.52,157.02 L447.76,156.77 L447.00,155.81 L446.24,158.32 L445.48,158.23 L444.72,156.32 L443.96,157.48 L443.21,157.11 L442.45,156.50 L441.69,156.30 L440.93,153.92 L440.17,156.11 L439.41,155.05 L438.65,153.44 L437.89,154.52 L437.13,152.14 L436.37,154.40 L435.61,152.01 L434.85,153.30 L434.09,154.39 L433.33,151.22 L432.57,153.52 L431.82,150.48 L431.06,152.86 L430.30,153.27 L429.54,151.98 L428.78,152.37 L428.02,148.88 L427.26,152.19 L426.50,149.36 L425.74,148.64 L424.98,149.22 L424.22,149.69 L423.46,146.94 L422.70,146.86 L421.94,147.37 L421.18,146.46 L420.43,148.83 L419.67,145.78 L418.91,145.91 L418.15,145.10 L417.39,147.06 L416.63,144.77 L415.87,146.07 L415.11,146.52 L414.35,144.70 L413.59,145.93 L412.83,142.61 L412.07,142.44 L411.31,145.01 L410.55,142.08 L409.79,141.00 L409.04,143.37 L408.28,142.86 L407.52,140.75 L406.76,141.37 L406.00,140.11 L405.24,139.14 L404.48,140.72 L403.72,140.69 L402.96,140.63 L402.20,137.46 L401.44,139.45 L400.68,139.63 L399.92,139.45 L399.16,139.33 L398.40,136.35 L397.65,135.82 L396.89,138.41 L396.13,135.94 L395.37,136.42 L394.61,135.90 L393.85,133.96 L393.09,133.00 L392.33,134.50 L391.57,135.33 L390.81,133.11 L390.05,133.08 L389.29,130.76 L388.53,130.80 L387.77,130.58 L387.01,132.40 L386.26,132.47 L385.50,131.36 L384.74,130.06 L383.98,130.81 L383.22,127.02 L382.46,128.51 L381.70,128.36 L380.94,128.65 L380.18,125.46 L379.42,128.55 L378.66,124.68 L377.90,125.21 L377.14,124.56 L376.38,123.35 L375.62,122.89 L374.87,123.54 L374.11,124.67 L373.35,122.94 L372.59,123.20 L371.83,119.95 L371.07,122.25 L370.31,119.58 L369.55,119.89 L368.79,119.93 L368.03,120.69 L367.27,117.23 L366.51,118.10 L365.75,116.72 L364.99,117.52 L364.23,117.63 L363.48,115.95 L362.72,116.34 L361.96,112.69 L361.20,115.20 L360.44,113.05 L359.68,110.78 L358.92,113.41 L358.16,111.99 L357.40,110.49 L356.64,110.09 L355.88,110.17 L355.12,111.06 L354.36,107.85 L353.60,108.71 L352.84,105.51 L352.09,106.89 L351.33,107.76 L350.57,104.88 L349.81,105.20 L349.05,103.47 L348.29,101.93 L347.53,102.44 L346.77,101.48 L346.01,101.27 L345.25,99.30 L344.49,99.19 L343.73,100.51 L342.97,96.60 L342.21,98.69 L341.45,96.12 L340.70,96.23 L339.94,96.17 L339.18,95.83 L338.42,95.03 L337.66,91.62 L336.90,93.60 L336.14,92.77 L335.38,89.64 L334.62,88.70 L333.86,88.04 L333.10,86.78 L332.34,86.57 L331.58,87.72 L330.82,85.97 L330.06,87.41 L329.31,85.02 L328.55,81.85 L327.79,84.60 L327.03,83.29 L326.27,79.31 L325.51,78.46 L324.75,79.88 L323.99,77.64 L323.23,76.60 L322.47,76.65 L321.71,76.67 L320.95,74.94 L320.19,74.32 L319.43,70.81 L318.67,71.95 L317.92,70.32 L317.16,69.07 L316.40,67.74 L315.64,65.94 L314.88,65.52 L314.12,62.79 L313.36,61.98 L312.60,56.27Z" fill="#f7a0b8" fill-opacity="0.25"/>
<path d="M311.36,53.24a2.0,2.0 0 1,0 4.0,0a2.0,2.0 0 1,0 -4.0,0M312.12,54.20a2.0,2.0 0 1,0 4.0,0a2.0,2.0 0 1,0 -4.0,0M312.88,56.06a2.0,2.0 0 1,0 4.0,0a2.0,2.0 0 1,0 -4.0,0M313.64,58.82a2.0,2.0 0 1,0 4.0,0a2.0,2.0 0 1,0 -4.0,0M314.40,59.16a2.0,2.0 0 1,0 4.0,0a2.0,2.0 0 1,0 -4.0,0M315.16,60.57a2.0,2.0 0 1,0 4.0,0a2.0,2.0 0 1,0 -4.0,0M315.92,62.11a2.0,2.0 0 1,0 4.0,0a2.0,2.0 0 1,0 -4.0,0M316.67,62.97a2.0,2.0 0 1,0 4.0,0a2.0,2.0 0 1,0 -4.0,0M317.43,65.02a2.0,2.0 0 1,0 4.0,0a2.0,2.0 0 1,0 -4.0,0M318.19,65.00a2.0,2.0 0 1,0 4.0,0a2.0,2.0 0 1,0 -4.0,0M318.95,66.52a2.0,2.0 0 1,0 4.0,0a2.0,2.0 0 1,0 -4.0,0M319.71,69.00a2.0,2.0 0 1,0 4.0,0a2.0,2.0 0 1,0 -4.0,0M320.47,67.84a2.0,2.0 0 1,0 4.0,0a2.0,2.0 0 1,0 -4.0,0M321.23,69.25a2.0,2.0 0 1,0 4.0,0a2.0,2.0 0 1,0 -4.0,0M321.99,70.92a2.0,2.0 0 1,0 4.0,0a2.0,2.0 0 1,0 -4.0,0M322.75,70.40a2.0,2.0 0 1,0 4.0,0a2.0,2.0 0 1,0 -4.0,0M323.51,71.33a2.0,2.0 0 1,0 4.0,0a2.0,2.0 0 1,0 -4.0,0M324.27,73.24a2.0,2.0 0 1,0 4.0,0a2.0,2.0 0 1,0 -4.0,0M325.03,75.16a2.0,2.0 0 1,0 4.0,0a2.0,2.0 0 1,0 -4.0,0M325.79,75.57a2.0,2.0 0 1,0 4.0,0a2.0,2.0 0 1,0 -4.0,0M326.55,75.96a2.0,2.0 0 1,0 4.0,0a2.0,2.0 0 1,0 -4.0,0M327.31,76.46a2.0,2.0 0 1,0 4.0,0a2.0,2.0 0 1,0 -4.0,0M328.06,79.50a2.0,2.0 0 1,0 4.0,0a2.0,2.0 0 1,0 -4.0,0M328.82,79.15a2.0,2.0 0 1,0 4.0,0a2.0,2.0 0 1,0 -4.0,0M329.58,79.01a2.0,2.0 0 1,0 4.0,0a2.0,2.0 0 1,0 -4.0,0M330.34,81.44a2.0,2.0 0 1,0 4.0,0a2.0,2.0 0 1,0 -4.0,0M331.10,82.08a2.0,2.0 0 1,0 4.0,0a2.0,2.0 0 1,0 -4.0,0M331.86,81.65a2.0,2.0 0 1,0 4.0,0a2.0,2.0 0 1,0 -4.0,0M332.62,81.81a2.0,2.0 0 1,0 4.0,0a2.0,2.0 0 1,0 -4.0,0M333.38,84.88a2.0,2.0 0 1,0 4.0,0a2.0,2.0 0 1,0 -4.0,0M334.14,84.32a2.0,2.0 0 1,0 4.0,0a2.0,2.0 0 1,0 -4.0,0M334.90,84.85a2.0,2.0 0 1,0 4.0,0a2.0,2.0 0 1,0 -4.0,0M335.66,86.09a2.0,2.0 0 1,0 4.0,0a2.0,2.0 0 1,0 -4.0,0M336.42,86.49a2.0,2.0 0 1,0 4.0,0a2.0,2.0 0 1,0 -4.0,0M337.18,88.11a2.0,2.0 0 1,0 4.0,0a2.0,2.0 0 1,0 -4.0,0M337.94,87.77a2.0,2.0 0 1,0 4.0,0a2.0,2.0 0 1,0 -4.0,0M338.70,88.87a2.0,2.0 0 1,0 4.0,0a2.0,2.0 0 1,0 -4.0,0M339.45,89.96a2.0,2.0 0 1,0 4.0,0a2.0,2.0 0 1,0 -4.0,0M340.21,91.10a2.0,2.0 0 1,0 4.0,0a2.0,2.0 0 1,0 -4.0,0M340.97,90.59a2.0,2.0 0 1,0 4.0,0a2.0,2.0 0 1,0 -4.0,0M341.73,91.41a2.0,2.0 0 1,0 4.0,0a2.0,2.0 0 1,0 -4.0,0M342.49,93.30a2.0,2.0 0 1,0 4.0,0a2.0,2.0 0 1,0 -4.0,0M343.25,93.10a2.0,2.0 0 1,0 4.0,0a2.0,2.0 0 1,0 -4.0,0M344.01,94.42a2.0,2.0 0 1,0 4.0,0a2.0,2.0 0 1,0 -4.0,0M344.77,94.67a2.0,2.0 0 1,0 4.0,0a2.0,2.0 0 1,0 -4.0,0M345.53,95.30a2.0,2.0 0 1,0 4.0,0a2.0,2.0 0 1,0 -4.0,0M346.29,95.36a2.0,2.0 0 1,0 4.0,0a2.0,2.0 0 1,0 -4.0,0M347.05,96.50a2.0,2.0 0 1,0 4.0,0a2.0,2.0 0 1,0 -4.0,0M347.81,97.13a2.0,2.0 0 1,0 4.0,0a2.0,2.0 0 1,0 -4.0,0M348.57,97.45a2.0,2.0 0 1,0 4.0,0a2.0,2.0 0 1,0 -4.0,0M349.33,99.57a2.0,2.0 0 1,0 4.0,0a2.0,2.0 0 1,0 -4.0,0M350.09,98.36a2.0,2.0 0 1,0 4.0,0a2.0,2.0 0 1,0 -4.0,0M350.84,99.30a2.0,2.0 0 1,0 4.0,0a2.0,2.0 0 1,0 -4.0,0M351.60,100.63a2.0,2.0 0 1,0 4.0,0a2.0,2.0 0 1,0 -4.0,0M352.36,101.69a2.0,2.0 0 1,0 4.0,0a2.0,2.0 0 1,0 -4.0,0M353.12,101.20a2.0,2.0 0 1,0 4.0,0a2.0,2.0 0 1,0 -4.0,0M353.88,102.11a2.0,2.0 0 1,0 4.0,0a2.0,2.0 0 1,0 -4.0,0M354.64,102.43a2.0,2.0 0 1,0 4.0,0a2.0,2.0 0 1,0 -4.0,0M355.40,102.89a2.0,2.0 0 1,0 4.0,0a2.0,2.0 0 1,0 -4.0,0M356.16,104.87a2.0,2.0 0 1,0 4.0,0a2.0,2.0 0 1,0 -4.0,0M356.92,104.67a2.0,2.0 0 1,0 4.0,0a2.0,2.0 0 1,0 -4.0,0M357.68,105.01a2.0,2.0 0 1,0 4.0,0a2.0,2.0 0 1,0 -4.0,0M358.44,106.02a2.0,2.0 0 1,0 4.0,0a2.0,2.0 0 1,0 -4.0,0M359.20,107.00a2.0,2.0 0 1,0 4.0,0a2.0,2.0 0 1,0 -4.0,0M359.96,107.86a2.0,2.0 0 1,0 4.0,0a2.0,2.0 0 1,0 -4.0,0M360.72,107.81a2.0,2.0 0 1,0 4.0,0a2.0,2.0 0 1,0 -4.0,0M361.48,108.33a2.0,2.0 0 1,0 4.0,0a2.0,2.0 0 1,0 -4.0,0M362.23,109.07a2.0,2.0 0 1,0 4.0,0a2.0,2.0 0 1,0 -4.0,0M362.99,109.92a2.0,2.0 0 1,0 4.0,0a2.0,2.0 0 1,0 -4.0,0M363.75,110.20a2.0,2.0 0 1,0 4.0,0a2.0,2.0 0 1,0 -4.0,0M364.51,109.64a2.0,2.0 0 1,0 4.0,0a2.0,2.0 0 1,0 -4.0,0M365.27,111.00a2.0,2.0 0 1,0 4.0,0a2.0,2.0 0 1,0 -4.0,0M366.03,111.27a2.0,2.0 0 1,0 4.0,0a2.0,2.0 0 1,0 -4.0,0M366.79,113.03a2.0,2.0 0 1,0 4.0,0a2.0,2.0 0 1,0 -4.0,0M367.55,112.61a2.0,2.0 0 1,0 4.0,0a2.0,2.0 0 1,0 -4.0,0M368.31,112.64a2.0,2.0 0 1,0 4.0,0a2.0,2.0 0 1,0 -4.0,0M369.07,114.44a2.0,2.0 0 1,0 4.0,0a2.0,2.0 0 1,0 -4.0,0M369.83,113.88a2.0,2.0 0 1,0 4.0,0a2.0,2.0 0 1,0 -4.0,0M370.59,114.91a2.0,2.0 0 1,0 4.0,0a2.0,2.0 0 1,0 -4.0,0M371.35,115.10a2.0,2.0 0 1,0 4.0,0a2.0,2.0 0 1,0 -4.0,0M372.11,115.90a2.0,2.0 0 1,0 4.0,0a2.0,2.0 0 1,0 -4.0,0M372.87,116.78a2.0,2.0 0 1,0 4.0,0a2.0,2.0 0 1,0 -4.0,0M373.62,116.18a2.0,2.0 0 1,0 4.0,0a2.0,2.0 0 1,0 -4.0,0M374.38,116.74a2.0,2.0 0 1,0 4.0,0a2.0,2.0 0 1,0 -4.0,0M375.14,118.15a2.0,2.0 0 1,0 4.0,0a2.0,2.0 0 1,0 -4.0,0M375.90,117.95a2.0,2.0 0 1,0 4.0,0a2.0,2.0 0 1,0 -4.0,0M376.66,118.71a2.0,2.0 0 1,0 4.0,0a2.0,2.0 0 1,0 -4.0,0M377.42,119.67a2.0,2.0 0 1,0 4.0,0a2.0,2.0 0 1,0 -4.0,0M378.18,119.03a2.0,2.0 0 1,0 4.0,0a2.0,2.0 0 1,0 -4.0,0M378.94,120.63a2.0,2.0 0 1,0 4.0,0a2.0,2.0 0 1,0 -4.0,0M379.70,120.30a2.0,2.0 0 1,0 4.0,0a2.0,2.0 0 1,0 -4.0,0M380.46,120.60a2.0,2.0 0 1,0 4.0,0a2.0,2.0 0 1,0 -4.0,0M381.22,121.08a2.0,2.0 0 1,0 4.0,0a2.0,2.0 0 1,0 -4.0,0M381.98,123.18a2.0,2.0 0 1,0 4.0,0a2.0,2.0 0 1,0 -4.0,0M382.74,122.67a2.0,2.0 0 1,0 4.0,0a2.0,2.0 0 1,0 -4.0,0M383.50,123.06a2.0,2.0 0 1,0 4.0,0a2.0,2.0 0 1,0 -4.0,0M384.26,122.77a2.0,2.0 0 1,0 4.0,0a2.0,2.0 0 1,0 -4.0,0M385.01,124.51a2.0,2.0 0 1,0 4.0,0a2.0,2.0 0 1,0 -4.0,0M385.77,123.41a2.0,2.0 0 1,0 4.0,0a2.0,2.0 0 1,0 -4.0,0M386.53,124.23a2.0,2.0 0 1,0 4.0,0a2.0,2.0 0 1,0 -4.0,0M387.29,125.69a2.0,2.0 0 1,0 4.0,0a2.0,2.0 0 1,0 -4.0,0M388.05,126.03a2.0,2.0 0 1,0 4.0,0a2.0,2.0 0 1,0 -4.0,0M388.81,125.60a2.0,2.0 0 1,0 4.0,0a2.0,2.0 0 1,0 -4.0,0M389.57,126.62a2.0,2.0 0 1,0 4.0,0a2.0,2.0 0 1,0 -4.0,0M390.33,126.47a2.0,2.0 0 1,0 4.0,0a2.0,2.0 0 1,0 -4.0,0M391.09,126.29a2.0,2.0 0 1,0 4.0,0a2.0,2.0 0 1,0 -4.0,0M391.85,128.05a2.0,2.0 0 1,0 4.0,0a2.0,2.0 0 1,0 -4.0,0M392.61,127.93a2.0,2.0 0 1,0 4.0,0a2.0,2.0 0 1,0 -4.0,0M393.37,128.75a2.0,2.0 0 1,0 4.0,0a2.0,2.0 0 1,0 -4.0,0M394.13,129.14a2.0,2.0 0 1,0 4.0,0a2.0,2.0 0 1,0 -4.0,0M394.89,128.56a2.0,2.0 0 1,0 4.0,0a2.0,2.0 0 1,0 -4.0,0M395.65,129.56a2.0,2.0 0 1,0 4.0,0a2.0,2.0 0 1,0 -4.0,0M396.40,129.40a2.0,2.0 0 1,0 4.0,0a2.0,2.0 0 1,0 -4.0,0M397.16,130.48a2.0,2.0 0 1,0 4.0,0a2.0,2.0 0 1,0 -4.0,0M397.92,131.10a2.0,2.0 0 1,0 4.0,0a2.0,2.0 0 1,0 -4.0,0M398.68,131.61a2.0,2.0 0 1,0 4.0,0a2.0,2.0 0 1,0 -4.0,0M399.44,132.84a2.0,2.0 0 1,0 4.0,0a2.0,2.0 0 1,0 -4.0,0M400.20,131.55a2.0,2.0 0 1,0 4.0,0a2.0,2.0 0 1,0 -4.0,0M400.96,132.86a2.0,2.0 0 1,0 4.0,0a2.0,2.0 0 1,0 -4.0,0M401.72,133.04a2.0,2.0 0 1,0 4.0,0a2.0,2.0 0 1,0 -4.0,0M402.48,133.34a2.0,2.0 0 1,0 4.0,0a2.0,2.0 0 1,0 -4.0,0M403.24,132.76a2.0,2.0 0 1,0 4.0,0a2.0,2.0 0 1,0 -4.0,0M404.00,133.98a2.0,2.0 0 1,0 4.0,0a2.0,2.0 0 1,0 -4.0,0M404.76,134.22a2.0,2.0 0 1,0 4.0,0a2.0,2.0 0 1,0 -4.0,0M405.52,134.42a2.0,2.0 0 1,0 4.0,0a2.0,2.0 0 1,0 -4.0,0M406.28,134.91a2.0,2.0 0 1,0 4.0,0a2.0,2.0 0 1,0 -4.0,0M407.04,134.51a2.0,2.0 0 1,0 4.0,0a2.0,2.0 0 1,0 -4.0,0M407.79,135.36a2.0,2.0 0 1,0 4.0,0a2.0,2.0 0 1,0 -4.0,0M408.55,136.09a2.0,2.0 0 1,0 4.0,0a2.0,2.0 0 1,0 -4.0,0M409.31,135.95a2.0,2.0 0 1,0 4.0,0a2.0,2.0 0 1,0 -4.0,0M410.07,136.82a2.0,2.0 0 1,0 4.0,0a2.0,2.0 0 1,0 -4.0,0M410.83,137.59a2.0,2.0 0 1,0 4.0,0a2.0,2.0 0 1,0 -4.0,0M411.59,137.25a2.0,2.0 0 1,0 4.0,0a2.0,2.0 0 1,0 -4.0,0M412.35,137.20a2.0,2.0 0 1,0 4.0,0a2.0,2.0 0 1,0 -4.0,0M413.11,138.02a2.0,2.0 0 1,0 4.0,0a2.0,2.0 0 1,0 -4.0,0M413.87,137.98a2.0,2.0 0 1,0 4.0,0a2.0,2.0 0 1,0 -4.0,0M414.63,138.12a2.0,2.0 0 1,0 4.0,0a2.0,2.0 0 1,0 -4.0,0M415.39,138.56a2.0,2.0 0 1,0 4.0,0a2.0,2.0 0 1,0 -4.0,0M416.15,140.15a2.0,2.0 0 1,0 4.0,0a2.0,2.0 0 1,0 -4.0,0M416.91,139.79a2.0,2.0 0 1,0 4.0,0a2.0,2.0 0 1,0 -4.0,0M417.67,140.13a2.0,2.0 0 1,0 4.0,0a2.0,2.0 0 1,0 -4.0,0M418.43,140.53a2.0,2.0 0 1,0 4.0,0a2.0,2.0 0 1,0 -4.0,0M419.18,139.36a2.0,2.0 0 1,0 4.0,0a2.0,2.0 0 1,0 -4.0,0M419.94,140.90a2.0,2.0 0 1,0 4.0,0a2.0,2.0 0 1,0 -4.0,0M420.70,141.38a2.0,2.0 0 1,0 4.0,0a2.0,2.0 0 1,0 -4.0,0M421.46,141.11a2.0,2.0 0 1,0 4.0,0a2.0,2.0 0 1,0 -4.0,0M422.22,140.94a2.0,2.0 0 1,0 4.0,0a2.0,2.0 0 1,0 -4.0,0M422.98,142.21a2.0,2.0 0 1,0 4.0,0a2.0,2.0 0 1,0 -4.0,0M423.74,142.01a2.0,2.0 0 1,0 4.0,0a2.0,2.0 0 1,0 -4.0,0M424.50,143.08a2.0,2.0 0 1,0 4.0,0a2.0,2.0 0 1,0 -4.0,0M425.26,142.49a2.0,2.0 0 1,0 4.0,0a2.0,2.0 0 1,0 -4.0,0M426.02,143.09a2.0,2.0 0 1,0 4.0,0a2.0,2.0 0 1,0 -4.0,0M426.78,143.93a2.0,2.0 0 1,0 4.0,0a2.0,2.0 0 1,0 -4.0,0M427.54,144.21a2.0,2.0 0 1,0 4.0,0a2.0,2.0 0 1,0 -4.0,0M428.30,144.54a2.0,2.0 0 1,0 4.0,0a2.0,2.0 0 1,0 -4.0,0M429.06,144.05a2.0,2.0 0 1,0 4.0,0a2.0,2.0 0 1,0 -4.0,0M429.82,145.70a2.0,2.0 0 1,0 4.0,0a2.0,2.0 0 1,0 -4.0,0M430.57,144.21a2.0,2.0 0 1,0 4.0,0a2.0,2.0 0 1,0 -4.0,0M431.33,144.67a2.0,2.0 0 1,0 4.0,0a2.0,2.0 0 1,0 -4.0,0M432.09,145.27a2.0,2.0 0 1,0 4.0,0a2.0,2.0 0 1,0 -4.0,0M432.85,146.34a2.0,2.0 0 1,0 4.0,0a2.0,2.0 0 1,0 -4.0,0M433.61,146.07a2.0,2.0 0 1,0 4.0,0a2.0,2.0 0 1,0 -4.0,0M434.37,147.24a2.0,2.0 0 1,0 4.0,0a2.0,2.0 0 1,0 -4.0,0M435.13,146.84a2.0,2.0 0 1,0 4.0,0a2.0,2.0 0 1,0 -4.0,0M435.89,147.08a2.0,2.0 0 1,0 4.0,0a2.0,2.0 0 1,0 -4.0,0M436.65,146.38a2.0,2.0 0 1,0 4.0,0a2.0,2.0 0 1,0 -4.0,0M437.41,146.98a2.0,2.0 0 1,0 4.0,0a2.0,2.0 0 1,0 -4.0,0M438.17,147.44a2.0,2.0 0 1,0 4.0,0a2.0,2.0 0 1,0 -4.0,0M438.93,147.03a2.0,2.0 0 1,0 4.0,0a2.0,2.0 0 1,0 -4.0,0M439.69,147.44a2.0,2.0 0 1,0 4.0,0a2.0,2.0 0 1,0 -4.0,0M440.45,147.47a2.0,2.0 0 1,0 4.0,0a2.0,2.0 0 1,0 -4.0,0M441.21,148.14a2.0,2.0 0 1,0 4.0,0a2.0,2.0 0 1,0 -4.0,0M441.96,149.16a2.0,2.0 0 1,0 4.0,0a2.0,2.0 0 1,0 -4.0,0M442.72,149.17a2.0,2.0 0 1,0 4.0,0a2.0,2.0 0 1,0 -4.0,0M443.48,149.29a2.0,2.0 0 1,0 4.0,0a2.0,2.0 0 1,0 -4.0,0M444.24,149.65a2.0,2.0 0 1,0 4.0,0a2.0,2.0 0 1,0 -4.0,0M445.00,149.14a2.0,2.0 0 1,0 4.0,0a2.0,2.0 0 1,0 -4.0,0M445.76,149.65a2.0,2.0 0 1,0 4.0,0a2.0,2.0 0 1,0 -4.0,0M446.52,149.79a2.0,2.0 0 1,0 4.0,0a2.0,2.0 0 1,0 -4.0,0M447.28,149.74a2.0,2.0 0 1,0 4.0,0a2.0,2.0 0 1,0 -4.0,0M448.04,150.28a2.0,2.0 0 1,0 4.0,0a2.0,2.0 0 1,0 -4.0,0M448.80,150.22a2.0,2.0 0 1,0 4.0,0a2.0,2.0 0 1,0 -4.0,0M449.56,150.94a2.0,2.0 0 1,0 4.0,0a2.0,2.0 0 1,0 -4.0,0M450.32,151.64a2.0,2.0 0 1,0 4.0,0a2.0,2.0 0 1,0 -4.0,0M451.08,151.59a2.0,2.0 0 1,0 4.0,0a2.0,2.0 0 1,0 -4.0,0M451.84,151.65a2.0,2.0 0 1,0 4.0,0a2.0,2.0 0 1,0 -4.0,0M452.60,152.13a2.0,2.0 0 1,0 4.0,0a2.0,2.0 0 1,0 -4.0,0M453.35,151.93a2.0,2.0 0 1,0 4.0,0a2.0,2.0 0 1,0 -4.0,0M454.11,151.76a2.0,2.0 0 1,0 4.0,0a2.0,2.0 0 1,0 -4.0,0M454.87,151.37a2.0,2.0 0 1,0 4.0,0a2.0,2.0 0 1,0 -4.0,0M455.63,153.41a2.0,2.0 0 1,0 4.0,0a2.0,2.0 0 1,0 -4.0,0M456.39,153.06a2.0,2.0 0 1,0 4.0,0a2.0,2.0 0 1,0 -4.0,0M457.15,151.84a2.0,2.0 0 1,0 4.0,0a2.0,2.0 0 1,0 -4.0,0M457.91,153.47a2.0,2.0 0 1,0 4.0,0a2.0,2.0 0 1,0 -4.0,0M458.67,153.22a2.0,2.0 0 1,0 4.0,0a2.0,2.0 0 1,0 -4.0,0M459.43,153.63a2.0,2.0 0 1,0 4.0,0a2.0,2.0 0 1,0 -4.0,0M460.19,154.00a2.0,2.0 0 1,0 4.0,0a2.0,2.0 0 1,0 -4.0,0M460.95,153.66a2.0,2.0 0 1,0 4.0,0a2.0,2.0 0 1,0 -4.0,0M461.71,153.43a2.0,2.0 0 1,0 4.0,0a2.0,2.0 0 1,0 -4.0,0M462.47,154.05a2.0,2.0 0 1,0 4.0,0a2.0,2.0 0 1,0 -4.0,0M463.23,155.10a2.0,2.0 0 1,0 4.0,0a2.0,2.0 0 1,0 -4.0,0M463.99,154.29a2.0,2.0 0 1,0 4.0,0a2.0,2.0 0 1,0 -4.0,0M464.74,154.19a2.0,2.0 0 1,0 4.0,0a2.0,2.0 0 1,0 -4.0,0M465.50,155.16a2.0,2.0 0 1,0 4.0,0a2.0,2.0 0 1,0 -4.0,0M466.26,156.49a2.0,2.0 0 1,0 4.0,0a2.0,2.0 0 1,0 -4.0,0M467.02,155.00a2.0,2.0 0 1,0 4.0,0a2.0,2.0 0 1,0 -4.0,0M467.78,156.35a2.0,2.0 0 1,0 4.0,0a2.0,2.0 0 1,0 -4.0,0M468.54,155.97a2.0,2.0 0 1,0 4.0,0a2.0,2.0 0 1,0 -4.0,0M469.30,156.29a2.0,2.0 0 1,0 4.0,0a2.0,2.0 0 1,0 -4.0,0M470.06,157.02a2.0,2.0 0 1,0 4.0,0a2.0,2.0 0 1,0 -4.0,0M470.82,155.84a2.0,2.0 0 1,0 4.0,0a2.0,2.0 0 1,0 -4.0,0M471.58,156.47a2.0,2.0 0 1,0 4.0,0a2.0,2.0 0 1,0 -4.0,0M472.34,156.51a2.0,2.0 0 1,0 4.0,0a2.0,2.0 0 1,0 -4.0,0M473.10,157.18a2.0,2.0 0 1,0 4.0,0a2.0,2.0 0 1,0 -4.0,0M473.86,157.08a2.0,2.0 0 1,0 4.0,0a2.0,2.0 0 1,0 -4.0,0M474.62,157.31a2.0,2.0 0 1,0 4.0,0a2.0,2.0 0 1,0 -4.0,0M475.38,157.79a2.0,2.0 0 1,0 4.0,0a2.0,2.0 0 1,0 -4.0,0M476.13,157.33a2.0,2.0 0 1,0 4.0,0a2.0,2.0 0 1,0 -4.0,0M476.89,157.72a2.0,2.0 0 1,0 4.0,0a2.0,2.0 0 1,0 -4.0,0M477.65,157.44a2.0,2.0 0 1,0 4.0,0a2.0,2.0 0 1,0 -4.0,0M478.41,158.70a2.0,2.0 0 1,0 4.0,0a2.0,2.0 0 1,0 -4.0,0M479.17,158.54a2.0,2.0 0 1,0 4.0,0a2.0,2.0 0 1,0 -4.0,0M479.93,159.23a2.0,2.0 0 1,0 4.0,0a2.0,2.0 0 1,0 -4.0,0M480.69,157.48a2.0,2.0 0 1,0 4.0,0a2.0,2.0 0 1,0 -4.0,0M481.45,158.07a2.0,2.0 0 1,0 4.0,0a2.0,2.0 0 1,0 -4.0,0M482.21,158.60a2.0,2.0 0 1,0 4.0,0a2.0,2.0 0 1,0 -4.0,0M482.97,159.40a2.0,2.0 0 1,0 4.0,0a2.0,2.0 0 1,0 -4.0,0M483.73,158.67a2.0,2.0 0 1,0 4.0,0a2.0,2.0 0 1,0 -4.0,0M484.49,158.52a2.0,2.0 0 1,0 4.0,0a2.0,2.0 0 1,0 -4.0,0M485.25,160.30a2.0,2.0 0 1,0 4.0,0a2.0,2.0 0 1,0 -4.0,0M486.01,159.30a2.0,2.0 0 1,0 4.0,0a2.0,2.0 0 1,0 -4.0,0M486.77,159.51a2.0,2.0 0 1,0 4.0,0a2.0,2.0 0 1,0 -4.0,0M487.52,159.07a2.0,2.0 0 1,0 4.0,0a2.0,2.0 0 1,0 -4.0,0M488.28,160.82a2.0,2.0 0 1,0 4.0,0a2.0,2.0 0 1,0 -4.0,0M489.04,160.13a2.0,2.0 0 1,0 4.0,0a2.0,2.0 0 1,0 -4.0,0M489.80,159.79a2.0,2.0 0 1,0 4.0,0a2.0,2.0 0 1,0 -4.0,0M490.56,159.94a2.0,2.0 0 1,0 4.0,0a2.0,2.0 0 1,0 -4.0,0M491.32,160.19a2.0,2.0 0 1,0 4.0,0a2.0,2.0 0 1,0 -4.0,0M492.08,160.60a2.0,2.0 0 1,0 4.0,0a2.0,2.0 0 1,0 -4.0,0M492.84,160.53a2.0,2.0 0 1,0 4.0,0a2.0,2.0 0 1,0 -4.0,0M493.60,160.15a2.0,2.0 0 1,0 4.0,0a2.0,2.0 0 1,0 -4.0,0M494.36,161.52a2.0,2.0 0 1,0 4.0,0a2.0,2.0 0 1,0 -4.0,0M495.12,160.27a2.0,2.0 0 1,0 4.0,0a2.0,2.0 0 1,0 -4.0,0M495.88,161.69a2.0,2.0 0 1,0 4.0,0a2.0,2.0 0 1,0 -4.0,0M496.64,161.49a2.0,2.0 0 1,0 4.0,0a2.0,2.0 0 1,0 -4.0,0M497.40,160.35a2.0,2.0 0 1,0 4.0,0a2.0,2.0 0 1,0 -4.0,0M498.16,161.86a2.0,2.0 0 1,0 4.0,0a2.0,2.0 0 1,0 -4.0,0M498.91,161.59a2.0,2.0 0 1,0 4.0,0a2.0,2.0 0 1,0 -4.0,0M499.67,161.04a2.0,2.0 0 1,0 4.0,0a2.0,2.0 0 1,0 -4.0,0M500.43,162.80a2.0,2.0 0 1,0 4.0,0a2.0,2.0 0 1,0 -4.0,0M501.19,162.46a2.0,2.0 0 1,0 4.0,0a2.0,2.0 0 1,0 -4.0,0M501.95,160.56a2.0,2.0 0 1,0 4.0,0a2.0,2.0 0 1,0 -4.0,0M502.71,162.54a2.0,2.0 0 1,0 4.0,0a2.0,2.0 0 1,0 -4.0,0M503.47,161.66a2.0,2.0 0 1,0 4.0,0a2.0,2.0 0 1,0 -4.0,0M504.23,161.20a2.0,2.0 0 1,0 4.0,0a2.0,2.0 0 1,0 -4.0,0M504.99,162.63a2.0,2.0 0 1,0 4.0,0a2.0,2.0 0 1,0 -4.0,0M505.75,161.58a2.0,2.0 0 1,0 4.0,0a2.0,2.0 0 1,0 -4.0,0M506.51,162.24a2.0,2.0 0 1,0 4.0,0a2.0,2.0 0 1,0 -4.0,0M507.27,162.59a2.0,2.0 0 1,0 4.0,0a2.0,2.0 0 1,0 -4.0,0M508.03,162.43a2.0,2.0 0 1,0 4.0,0a2.0,2.0 0 1,0 -4.0,0M508.79,162.13a2.0,2.0 0 1,0 4.0,0a2.0,2.0 0 1,0 -4.0,0M509.55,161.46a2.0,2.0 0 1,0 4.0,0a2.0,2.0 0 1,0 -4.0,0M510.30,162.83a2.0,2.0 0 1,0 4.0,0a2.0,2.0 0 1,0 -4.0,0M511.06,163.74a2.0,2.0 0 1,0 4.0,0a2.0,2.0 0 1,0 -4.0,0M511.82,163.86a2.0,2.0 0 1,0 4.0,0a2.0,2.0 0 1,0 -4.0,0M512.58,164.13a2.0,2.0 0 1,0 4.0,0a2.0,2.0 0 1,0 -4.0,0M513.34,163.58a2.0,2.0 0 1,0 4.0,0a2.0,2.0 0 1,0 -4.0,0M514.10,163.58a2.0,2.0 0 1,0 4.0,0a2.0,2.0 0 1,0 -4.0,0M514.86,163.08a2.0,2.0 0 1,0 4.0,0a2.0,2.0 0 1,0 -4.0,0M515.62,162.09a2.0,2.0 0 1,0 4.0,0a2.0,2.0 0 1,0 -4.0,0M516.38,163.25a2.0,2.0 0 1,0 4.0,0a2.0,2.0 0 1,0 -4.0,0M517.14,163.31a2.0,2.0 0 1,0 4.0,0a2.0,2.0 0 1,0 -4.0,0M517.90,163.32a2.0,2.0 0 1,0 4.0,0a2.0,2.0 0 1,0 -4.0,0M518.66,163.99a2.0,2.0 0 1,0 4.0,0a2.0,2.0 0 1,0 -4.0,0M519.42,164.29a2.0,2.0 0 1,0 4.0,0a2.0,2.0 0 1,0 -4.0,0M520.18,163.78a2.0,2.0 0 1,0 4.0,0a2.0,2.0 0 1,0 -4.0,0M520.94,164.74a2.0,2.0 0 1,0 4.0,0a2.0,2.0 0 1,0 -4.0,0M521.69,164.51a2.0,2.0 0 1,0 4.0,0a2.0,2.0 0 1,0 -4.0,0M522.45,164.93a2.0,2.0 0 1,0 4.0,0a2.0,2.0 0 1,0 -4.0,0M523.21,165.14a2.0,2.0 0 1,0 4.0,0a2.0,2.0 0 1,0 -4.0,0M523.97,165.33a2.0,2.0 0 1,0 4.0,0a2.0,2.0 0 1,0 -4.0,0M524.73,164.49a2.0,2.0 0 1,0 4.0,0a2.0,2.0 0 1,0 -4.0,0M525.49,164.40a2.0,2.0 0 1,0 4.0,0a2.0,2.0 0 1,0 -4.0,0M526.25,164.92a2.0,2.0 0 1,0 4.0,0a2.0,2.0 0 1,0 -4.0,0M527.01,165.69a2.0,2.0 0 1,0 4.0,0a2.0,2.0 0 1,0 -4.0,0M527.77,163.73a2.0,2.0 0 1,0 4.0,0a2.0,2.0 0 1,0 -4.0,0M528.53,165.61a2.0,2.0 0 1,0 4.0,0a2.0,2.0 0 1,0 -4.0,0M529.29,164.92a2.0,2.0 0 1,0 4.0,0a2.0,2.0 0 1,0 -4.0,0M530.05,165.71a2.0,2.0 0 1,0 4.0,0a2.0,2.0 0 1,0 -4.0,0M530.81,165.63a2.0,2.0 0 1,0 4.0,0a2.0,2.0 0 1,0 -4.0,0M531.57,165.25a2.0,2.0 0 1,0 4.0,0a2.0,2.0 0 1,0 -4.0,0M532.33,165.05a2.0,2.0 0 1,0 4.0,0a2.0,2.0 0 1,0 -4.0,0M533.08,165.42a2.0,2.0 0 1,0 4.0,0a2.0,2.0 0 1,0 -4.0,0" fill="#e0c060" fill-opacity="0.35" stroke="#e0a030" stroke-width="1"/>
<path d="M311.62,57.30a2.5,2.5 0 1,0 5,0a2.5,2.5 0 1,0 -5,0M312.38,57.15a2.5,2.5 0 1,0 5,0a2.5,2.5 0 1,0 -5,0M313.14,57.71a2.5,2.5 0 1,0 5,0a2.5,2.5 0 1,0 -5,0M313.90,57.39a2.5,2.5 0 1,0 5,0a2.5,2.5 0 1,0 -5,0M314.66,57.63a2.5,2.5 0 1,0 5,0a2.5,2.5 0 1,0 -5,0M315.42,57.69a2.5,2.5 0 1,0 5,0a2.5,2.5 0 1,0 -5,0M316.17,56.82a2.5,2.5 0 1,0 5,0a2.5,2.5 0 1,0 -5,0M316.93,58.64a2.5,2.5 0 1,0 5,0a2.5,2.5 0 1,0 -5,0M317.69,58.82a2.5,2.5 0 1,0 5,0a2.5,2.5 0 1,0 -5,0M318.45,59.28a2.5,2.5 0 1,0 5,0a2.5,2.5 0 1,0 -5,0M319.21,58.46a2.5,2.5 0 1,0 5,0a2.5,2.5 0 1,0 -5,0M319.97,58.88a2.5,2.5 0 1,0 5,0a2.5,2.5 0 1,0 -5,0M320.73,59.81a2.5,2.5 0 1,0 5,0a2.5,2.5 0 1,0 -5,0M321.49,60.45a2.5,2.5 0 1,0 5,0a2.5,2.5 0 1,0 -5,0M322.25,61.23a2.5,2.5 0 1,0 5,0a2.5,2.5 0 1,0 -5,0M323.01,61.27a2.5,2.5 0 1,0 5,0a2.5,2.5 0 1,0 -5,0M323.77,61.81a2.5,2.5 0 1,0 5,0a2.5,2.5 0 1,0 -5,0M324.53,61.27a2.5,2.5 0 1,0 5,0a2.5,2.5 0 1,0 -5,0M325.29,61.99a2.5,2.5 0 1,0 5,0a2.5,2.5 0 1,0 -5,0M326.05,62.21a2.5,2.5 0 1,0 5,0a2.5,2.5 0 1,0 -5,0M326.81,61.80a2.5,2.5 0 1,0 5,0a2.5,2.5 0 1,0 -5,0M327.56,63.52a2.5,2.5 0 1,0 5,0a2.5,2.5 0 1,0 -5,0M328.32,63.20a2.5,2.5 0 1,0 5,0a2.5,2.5 0 1,0 -5,0M329.08,64.02a2.5,2.5 0 1,0 5,0a2.5,2.5 0 1,0 -5,0M329.84,63.42a2.5,2.5 0 1,0 5,0a2.5,2.5 0 1,0 -5,0M330.60,63.87a2.5,2.5 0 1,0 5,0a2.5,2.5 0 1,0 -5,0M331.36,64.61a2.5,2.5 0 1,0 5,0a2.5,2.5 0 1,0 -5,0M332.12,65.22a2.5,2.5 0 1,0 5,0a2.5,2.5 0 1,0 -5,0M332.88,66.06a2.5,2.5 0 1,0 5,0a2.5,2.5 0 1,0 -5,0M333.64,66.11a2.5,2.5 0 1,0 5,0a2.5,2.5 0 1,0 -5,0M334.40,65.88a2.5,2.5 0 1,0 5,0a2.5,2.5 0 1,0 -5,0M335.16,65.70a2.5,2.5 0 1,0 5,0a2.5,2.5 0 1,0 -5,0M335.92,66.05a2.5,2.5 0 1,0 5,0a2.5,2.5 0 1,0 -5,0M336.68,67.18a2.5,2.5 0 1,0 5,0a2.5,2.5 0 1,0 -5,0M337.44,66.07a2.5,2.5 0 1,0 5,0a2.5,2.5 0 1,0 -5,0M338.20,66.85a2.5,2.5 0 1,0 5,0a2.5,2.5 0 1,0 -5,0M338.95,67.18a2.5,2.5 0 1,0 5,0a2.5,2.5 0 1,0 -5,0M339.71,66.32a2.5,2.5 0 1,0 5,0a2.5,2.5 0 1,0 -5,0M340.47,67.58a2.5,2.5 0 1,0 5,0a2.5,2.5 0 1,0 -5,0M341.23,68.70a2.5,2.5 0 1,0 5,0a2.5,2.5 0 1,0 -5,0M341.99,67.08a2.5,2.5 0 1,0 5,0a2.5,2.5 0 1,0 -5,0M342.75,68.44a2.5,2.5 0 1,0 5,0a2.5,2.5 0 1,0 -5,0M343.51,68.86a2.5,2.5 0 1,0 5,0a2.5,2.5 0 1,0 -5,0M344.27,68.65a2.5,2.5 0 1,0 5,0a2.5,2.5 0 1,0 -5,0M345.03,69.58a2.5,2.5 0 1,0 5,0a2.5,2.5 0 1,0 -5,0M345.79,69.33a2.5,2.5 0 1,0 5,0a2.5,2.5 0 1,0 -5,0M346.55,68.53a2.5,2.5 0 1,0 5,0a2.5,2.5 0 1,0 -5,0M347.31,69.94a2.5,2.5 0 1,0 5,0a2.5,2.5 0 1,0 -5,0M348.07,69.90a2.5,2.5 0 1,0 5,0a2.5,2.5 0 1,0 -5,0M348.83,70.18a2.5,2.5 0 1,0 5,0a2.5,2.5 0 1,0 -5,0M349.59,70.58a2.5,2.5 0 1,0 5,0a2.5,2.5 0 1,0 -5,0M350.34,70.08a2.5,2.5 0 1,0 5,0a2.5,2.5 0 1,0 -5,0M351.10,70.16a2.5,2.5 0 1,0 5,0a2.5,2.5 0 1,0 -5,0M351.86,69.60a2.5,2.5 0 1,0 5,0a2.5,2.5 0 1,0 -5,0M352.62,71.06a2.5,2.5 0 1,0 5,0a2.5,2.5 0 1,0 -5,0M353.38,70.63a2.5,2.5 0 1,0 5,0a2.5,2.5 0 1,0 -5,0M354.14,71.00a2.5,2.5 0 1,0 5,0a2.5,2.5 0 1,0 -5,0M354.90,70.73a2.5,2.5 0 1,0 5,0a2.5,2.5 0 1,0 -5,0M355.66,71.06a2.5,2.5 0 1,0 5,0a2.5,2.5 0 1,0 -5,0M356.42,71.41a2.5,2.5 0 1,0 5,0a2.5,2.5 0 1,0 -5,0M357.18,72.53a2.5,2.5 0 1,0 5,0a2.5,2.5 0 1,0 -5,0M357.94,70.54a2.5,2.5 0 1,0 5,0a2.5,2.5 0 1,0 -5,0M358.70,70.90a2.5,2.5 0 1,0 5,0a2.5,2.5 0 1,0 -5,0M359.46,71.96a2.5,2.5 0 1,0 5,0a2.5,2.5 0 1,0 -5,0M360.22,72.79a2.5,2.5 0 1,0 5,0a2.5,2.5 0 1,0 -5,0M360.98,72.44a2.5,2.5 0 1,0 5,0a2.5,2.5 0 1,0 -5,0M361.73,71.20a2.5,2.5 0 1,0 5,0a2.5,2.5 0 1,0 -5,0M362.49,71.12a2.5,2.5 0 1,0 5,0a2.5,2.5 0 1,0 -5,0M363.25,73.16a2.5,2.5 0 1,0 5,0a2.5,2.5 0 1,0 -5,0M364.01,72.82a2.5,2.5 0 1,0 5,0a2.5,2.5 0 1,0 -5,0M364.77,72.87a2.5,2.5 0 1,0 5,0a2.5,2.5 0 1,0 -5,0M365.53,74.34a2.5,2.5 0 1,0 5,0a2.5,2.5 0 1,0 -5,0M366.29,74.55a2.5,2.5 0 1,0 5,0a2.5,2.5 0 1,0 -5,0M367.05,74.03a2.5,2.5 0 1,0 5,0a2.5,2.5 0 1,0 -5,0M367.81,74.04a2.5,2.5 0 1,0 5,0a2.5,2.5 0 1,0 -5,0M368.57,74.03a2.5,2.5 0 1,0 5,0a2.5,2.5 0 1,0 -5,0M369.33,74.59a2.5,2.5 0 1,0 5,0a2.5,2.5 0 1,0 -5,0M370.09,73.88a2.5,2.5 0 1,0 5,0a2.5,2.5 0 1,0 -5,0M370.85,73.74a2.5,2.5 0 1,0 5,0a2.5,2.5 0 1,0 -5,0M371.61,73.75a2.5,2.5 0 1,0 5,0a2.5,2.5 0 1,0 -5,0M372.37,72.54a2.5,2.5 0 1,0 5,0a2.5,2.5 0 1,0 -5,0M373.12,74.38a2.5,2.5 0 1,0 5,0a2.5,2.5 0 1,0 -5,0M373.88,74.36a2.5,2.5 0 1,0 5,0a2.5,2.5 0 1,0 -5,0M374.64,74.30a2.5,2.5 0 1,0 5,0a2.5,2.5 0 1,0 -5,0M375.40,72.98a2.5,2.5 0 1,0 5,0a2.5,2.5 0 1,0 -5,0M376.16,73.93a2.5,2.5 0 1,0 5,0a2.5,2.5 0 1,0 -5,0M376.92,74.90a2.5,2.5 0 1,0 5,0a2.5,2.5 0 1,0 -5,0M377.68,73.33a2.5,2.5 0 1,0 5,0a2.5,2.5 0 1,0 -5,0M378.44,74.27a2.5,2.5 0 1,0 5,0a2.5,2.5 0 1,0 -5,0M379.20,74.91a2.5,2.5 0 1,0 5,0a2.5,2.5 0 1,0 -5,0M379.96,73.42a2.5,2.5 0 1,0 5,0a2.5,2.5 0 1,0 -5,0M380.72,75.09a2.5,2.5 0 1,0 5,0a2.5,2.5 0 1,0 -5,0M381.48,74.42a2.5,2.5 0 1,0 5,0a2.5,2.5 0 1,0 -5,0M382.24,74.04a2.5,2.5 0 1,0 5,0a2.5,2.5 0 1,0 -5,0M383.00,74.44a2.5,2.5 0 1,0 5,0a2.5,2.5 0 1,0 -5,0M383.76,74.83a2.5,2.5 0 1,0 5,0a2.5,2.5 0 1,0 -5,0M384.51,74.77a2.5,2.5 0 1,0 5,0a2.5,2.5 0 1,0 -5,0M385.27,75.68a2.5,2.5 0 1,0 5,0a2.5,2.5 0 1,0 -5,0M386.03,74.88a2.5,2.5 0 1,0 5,0a2.5,2.5 0 1,0 -5,0M386.79,75.29a2.5,2.5 0 1,0 5,0a2.5,2.5 0 1,0 -5,0M387.55,76.37a2.5,2.5 0 1,0 5,0a2.5,2.5 0 1,0 -5,0M388.31,75.89a2.5,2.5 0 1,0 5,0a2.5,2.5 0 1,0 -5,0M389.07,75.40a2.5,2.5 0 1,0 5,0a2.5,2.5 0 1,0 -5,0M389.83,76.49a2.5,2.5 0 1,0 5,0a2.5,2.5 0 1,0 -5,0M390.59,76.75a2.5,2.5 0 1,0 5,0a2.5,2.5 0 1,0 -5,0M391.35,75.54a2.5,2.5 0 1,0 5,0a2.5,2.5 0 1,0 -5,0M392.11,74.93a2.5,2.5 0 1,0 5,0a2.5,2.5 0 1,0 -5,0M392.87,75.67a2.5,2.5 0 1,0 5,0a2.5,2.5 0 1,0 -5,0M393.63,75.72a2.5,2.5 0 1,0 5,0a2.5,2.5 0 1,0 -5,0M394.39,75.76a2.5,2.5 0 1,0 5,0a2.5,2.5 0 1,0 -5,0M395.15,76.96a2.5,2.5 0 1,0 5,0a2.5,2.5 0 1,0 -5,0M395.90,75.72a2.5,2.5 0 1,0 5,0a2.5,2.5 0 1,0 -5,0M396.66,77.32a2.5,2.5 0 1,0 5,0a2.5,2.5 0 1,0 -5,0M397.42,76.00a2.5,2.5 0 1,0 5,0a2.5,2.5 0 1,0 -5,0M398.18,76.42a2.5,2.5 0 1,0 5,0a2.5,2.5 0 1,0 -5,0M398.94,77.33a2.5,2.5 0 1,0 5,0a2.5,2.5 0 1,0 -5,0M399.70,77.62a2.5,2.5 0 1,0 5,0a2.5,2.5 0 1,0 -5,0M400.46,77.37a2.5,2.5 0 1,0 5,0a2.5,2.5 0 1,0 -5,0M401.22,76.92a2.5,2.5 0 1,0 5,0a2.5,2.5 0 1,0 -5,0M401.98,76.64a2.5,2.5 0 1,0 5,0a2.5,2.5 0 1,0 -5,0M402.74,76.51a2.5,2.5 0 1,0 5,0a2.5,2.5 0 1,0 -5,0M403.50,76.66a2.5,2.5 0 1,0 5,0a2.5,2.5 0 1,0 -5,0M404.26,76.18a2.5,2.5 0 1,0 5,0a2.5,2.5 0 1,0 -5,0M405.02,76.49a2.5,2.5 0 1,0 5,0a2.5,2.5 0 1,0 -5,0M405.78,76.80a2.5,2.5 0 1,0 5,0a2.5,2.5 0 1,0 -5,0M406.54,76.64a2.5,2.5 0 1,0 5,0a2.5,2.5 0 1,0 -5,0M407.29,77.32a2.5,2.5 0 1,0 5,0a2.5,2.5 0 1,0 -5,0M408.05,77.42a2.5,2.5 0 1,0 5,0a2.5,2.5 0 1,0 -5,0M408.81,78.49a2.5,2.5 0 1,0 5,0a2.5,2.5 0 1,0 -5,0M409.57,77.63a2.5,2.5 0 1,0 5,0a2.5,2.5 0 1,0 -5,0M410.33,77.26a2.5,2.5 0 1,0 5,0a2.5,2.5 0 1,0 -5,0M411.09,77.31a2.5,2.5 0 1,0 5,0a2.5,2.5 0 1,0 -5,0M411.85,77.49a2.5,2.5 0 1,0 5,0a2.5,2.5 0 1,0 -5,0M412.61,77.99a2.5,2.5 0 1,0 5,0a2.5,2.5 0 1,0 -5,0M413.37,77.17a2.5,2.5 0 1,0 5,0a2.5,2.5 0 1,0 -5,0M414.13,77.57a2.5,2.5 0 1,0 5,0a2.5,2.5 0 1,0 -5,0M414.89,78.47a2.5,2.5 0 1,0 5,0a2.5,2.5 0 1,0 -5,0M415.65,75.93a2.5,2.5 0 1,0 5,0a2.5,2.5 0 1,0 -5,0M416.41,76.96a2.5,2.5 0 1,0 5,0a2.5,2.5 0 1,0 -5,0M417.17,78.02a2.5,2.5 0 1,0 5,0a2.5,2.5 0 1,0 -5,0M417.93,78.31a2.5,2.5 0 1,0 5,0a2.5,2.5 0 1,0 -5,0M418.68,78.38a2.5,2.5 0 1,0 5,0a2.5,2.5 0 1,0 -5,0M419.44,78.11a2.5,2.5 0 1,0 5,0a2.5,2.5 0 1,0 -5,0M420.20,78.84a2.5,2.5 0 1,0 5,0a2.5,2.5 0 1,0 -5,0M420.96,78.62a2.5,2.5 0 1,0 5,0a2.5,2.5 0 1,0 -5,0M421.72,78.06a2.5,2.5 0 1,0 5,0a2.5,2.5 0 1,0 -5,0M422.48,79.68a2.5,2.5 0 1,0 5,0a2.5,2.5 0 1,0 -5,0M423.24,78.22a2.5,2.5 0 1,0 5,0a2.5,2.5 0 1,0 -5,0M424.00,77.44a2.5,2.5 0 1,0 5,0a2.5,2.5 0 1,0 -5,0M424.76,77.49a2.5,2.5 0 1,0 5,0a2.5,2.5 0 1,0 -5,0M425.52,77.22a2.5,2.5 0 1,0 5,0a2.5,2.5 0 1,0 -5,0M426.28,77.18a2.5,2.5 0 1,0 5,0a2.5,2.5 0 1,0 -5,0M427.04,75.52a2.5,2.5 0 1,0 5,0a2.5,2.5 0 1,0 -5,0M427.80,76.86a2.5,2.5 0 1,0 5,0a2.5,2.5 0 1,0 -5,0M428.56,77.81a2.5,2.5 0 1,0 5,0a2.5,2.5 0 1,0 -5,0M429.32,76.57a2.5,2.5 0 1,0 5,0a2.5,2.5 0 1,0 -5,0M430.07,77.30a2.5,2.5 0 1,0 5,0a2.5,2.5 0 1,0 -5,0M430.83,77.93a2.5,2.5 0 1,0 5,0a2.5,2.5 0 1,0 -5,0M431.59,77.84a2.5,2.5 0 1,0 5,0a2.5,2.5 0 1,0 -5,0M432.35,78.12a2.5,2.5 0 1,0 5,0a2.5,2.5 0 1,0 -5,0M433.11,76.03a2.5,2.5 0 1,0 5,0a2.5,2.5 0 1,0 -5,0M433.87,76.60a2.5,2.5 0 1,0 5,0a2.5,2.5 0 1,0 -5,0M434.63,76.35a2.5,2.5 0 1,0 5,0a2.5,2.5 0 1,0 -5,0M435.39,76.68a2.5,2.5 0 1,0 5,0a2.5,2.5 0 1,0 -5,0M436.15,76.75a2.5,2.5 0 1,0 5,0a2.5,2.5 0 1,0 -5,0M436.91,74.34a2.5,2.5 0 1,0 5,0a2.5,2.5 0 1,0 -5,0M437.67,76.53a2.5,2.5 0 1,0 5,0a2.5,2.5 0 1,0 -5,0M438.43,75.03a2.5,2.5 0 1,0 5,0a2.5,2.5 0 1,0 -5,0M439.19,76.39a2.5,2.5 0 1,0 5,0a2.5,2.5 0 1,0 -5,0M439.95,75.21a2.5,2.5 0 1,0 5,0a2.5,2.5 0 1,0 -5,0M440.71,76.36a2.5,2.5 0 1,0 5,0a2.5,2.5 0 1,0 -5,0M441.46,77.09a2.5,2.5 0 1,0 5,0a2.5,2.5 0 1,0 -5,0M442.22,76.36a2.5,2.5 0 1,0 5,0a2.5,2.5 0 1,0 -5,0M442.98,76.58a2.5,2.5 0 1,0 5,0a2.5,2.5 0 1,0 -5,0M443.74,76.88a2.5,2.5 0 1,0 5,0a2.5,2.5 0 1,0 -5,0M444.50,76.36a2.5,2.5 0 1,0 5,0a2.5,2.5 0 1,0 -5,0M445.26,76.15a2.5,2.5 0 1,0 5,0a2.5,2.5 0 1,0 -5,0M446.02,77.03a2.5,2.5 0 1,0 5,0a2.5,2.5 0 1,0 -5,0M446.78,76.67a2.5,2.5 0 1,0 5,0a2.5,2.5 0 1,0 -5,0M447.54,75.83a2.5,2.5 0 1,0 5,0a2.5,2.5 0 1,0 -5,0M448.30,77.68a2.5,2.5 0 1,0 5,0a2.5,2.5 0 1,0 -5,0M449.06,75.44a2.5,2.5 0 1,0 5,0a2.5,2.5 0 1,0 -5,0M449.82,76.83a2.5,2.5 0 1,0 5,0a2.5,2.5 0 1,0 -5,0M450.58,76.32a2.5,2.5 0 1,0 5,0a2.5,2.5 0 1,0 -5,0M451.34,76.77a2.5,2.5 0 1,0 5,0a2.5,2.5 0 1,0 -5,0M452.10,77.31a2.5,2.5 0 1,0 5,0a2.5,2.5 0 1,0 -5,0M452.85,77.17a2.5,2.5 0 1,0 5,0a2.5,2.5 0 1,0 -5,0M453.61,77.49a2.5,2.5 0 1,0 5,0a2.5,2.5 0 1,0 -5,0M454.37,76.19a2.5,2.5 0 1,0 5,0a2.5,2.5 0 1,0 -5,0M455.13,76.25a2.5,2.5 0 1,0 5,0a2.5,2.5 0 1,0 -5,0M455.89,77.55a2.5,2.5 0 1,0 5,0a2.5,2.5 0 1,0 -5,0M456.65,76.59a2.5,2.5 0 1,0 5,0a2.5,2.5 0 1,0 -5,0M457.41,76.54a2.5,2.5 0 1,0 5,0a2.5,2.5 0 1,0 -5,0M458.17,76.29a2.5,2.5 0 1,0 5,0a2.5,2.5 0 1,0 -5,0M458.93,78.01a2.5,2.5 0 1,0 5,0a2.5,2.5 0 1,0 -5,0M459.69,77.85a2.5,2.5 0 1,0 5,0a2.5,2.5 0 1,0 -5,0M460.45,78.51a2.5,2.5 0 1,0 5,0a2.5,2.5 0 1,0 -5,0M461.21,77.36a2.5,2.5 0 1,0 5,0a2.5,2.5 0 1,0 -5,0M461.97,78.25a2.5,2.5 0 1,0 5,0a2.5,2.5 0 1,0 -5,0M462.73,77.91a2.5,2.5 0 1,0 5,0a2.5,2.5 0 1,0 -5,0M463.49,79.37a2.5,2.5 0 1,0 5,0a2.5,2.5 0 1,0 -5,0M464.24,80.14a2.5,2.5 0 1,0 5,0a2.5,2.5 0 1,0 -5,0M465.00,78.87a2.5,2.5 0 1,0 5,0a2.5,2.5 0 1,0 -5,0M465.76,80.48a2.5,2.5 0 1,0 5,0a2.5,2.5 0 1,0 -5,0M466.52,80.23a2.5,2.5 0 1,0 5,0a2.5,2.5 0 1,0 -5,0M467.28,79.59a2.5,2.5 0 1,0 5,0a2.5,2.5 0 1,0 -5,0M468.04,78.57a2.5,2.5 0 1,0 5,0a2.5,2.5 0 1,0 -5,0M468.80,80.67a2.5,2.5 0 1,0 5,0a2.5,2.5 0 1,0 -5,0M469.56,79.89a2.5,2.5 0 1,0 5,0a2.5,2.5 0 1,0 -5,0M470.32,79.54a2.5,2.5 0 1,0 5,0a2.5,2.5 0 1,0 -5,0M471.08,80.18a2.5,2.5 0 1,0 5,0a2.5,2.5 0 1,0 -5,0M471.84,80.30a2.5,2.5 0 1,0 5,0a2.5,2.5 0 1,0 -5,0M472.60,81.10a2.5,2.5 0 1,0 5,0a2.5,2.5 0 1,0 -5,0M473.36,79.77a2.5,2.5 0 1,0 5,0a2.5,2.5 0 1,0 -5,0M474.12,81.22a2.5,2.5 0 1,0 5,0a2.5,2.5 0 1,0 -5,0M474.88,81.55a2.5,2.5 0 1,0 5,0a2.5,2.5 0 1,0 -5,0M475.63,81.57a2.5,2.5 0 1,0 5,0a2.5,2.5 0 1,0 -5,0M476.39,80.56a2.5,2.5 0 1,0 5,0a2.5,2.5 0 1,0 -5,0M477.15,80.11a2.5,2.5 0 1,0 5,0a2.5,2.5 0 1,0 -5,0M477.91,81.07a2.5,2.5 0 1,0 5,0a2.5,2.5 0 1,0 -5,0M478.67,80.45a2.5,2.5 0 1,0 5,0a2.5,2.5 0 1,0 -5,0M479.43,80.37a2.5,2.5 0 1,0 5,0a2.5,2.5 0 1,0 -5,0M480.19,81.10a2.5,2.5 0 1,0 5,0a2.5,2.5 0 1,0 -5,0M480.95,80.08a2.5,2.5 0 1,0 5,0a2.5,2.5 0 1,0 -5,0M481.71,78.93a2.5,2.5 0 1,0 5,0a2.5,2.5 0 1,0 -5,0M482.47,80.20a2.5,2.5 0 1,0 5,0a2.5,2.5 0 1,0 -5,0M483.23,79.50a2.5,2.5 0 1,0 5,0a2.5,2.5 0 1,0 -5,0M483.99,81.31a2.5,2.5 0 1,0 5,0a2.5,2.5 0 1,0 -5,0M484.75,81.21a2.5,2.5 0 1,0 5,0a2.5,2.5 0 1,0 -5,0M485.51,80.83a2.5,2.5 0 1,0 5,0a2.5,2.5 0 1,0 -5,0M486.27,81.30a2.5,2.5 0 1,0 5,0a2.5,2.5 0 1,0 -5,0M487.02,81.84a2.5,2.5 0 1,0 5,0a2.5,2.5 0 1,0 -5,0M487.78,81.35a2.5,2.5 0 1,0 5,0a2.5,2.5 0 1,0 -5,0M488.54,82.00a2.5,2.5 0 1,0 5,0a2.5,2.5 0 1,0 -5,0M489.30,81.03a2.5,2.5 0 1,0 5,0a2.5,2.5 0 1,0 -5,0M490.06,81.55a2.5,2.5 0 1,0 5,0a2.5,2.5 0 1,0 -5,0M490.82,81.71a2.5,2.5 0 1,0 5,0a2.5,2.5 0 1,0 -5,0M491.58,81.73a2.5,2.5 0 1,0 5,0a2.5,2.5 0 1,0 -5,0M492.34,80.38a2.5,2.5 0 1,0 5,0a2.5,2.5 0 1,0 -5,0M493.10,81.42a2.5,2.5 0 1,0 5,0a2.5,2.5 0 1,0 -5,0M493.86,79.94a2.5,2.5 0 1,0 5,0a2.5,2.5 0 1,0 -5,0M494.62,80.65a2.5,2.5 0 1,0 5,0a2.5,2.5 0 1,0 -5,0M495.38,80.38a2.5,2.5 0 1,0 5,0a2.5,2.5 0 1,0 -5,0M496.14,82.45a2.5,2.5 0 1,0 5,0a2.5,2.5 0 1,0 -5,0M496.90,81.28a2.5,2.5 0 1,0 5,0a2.5,2.5 0 1,0 -5,0M497.66,82.16a2.5,2.5 0 1,0 5,0a2.5,2.5 0 1,0 -5,0M498.41,82.13a2.5,2.5 0 1,0 5,0a2.5,2.5 0 1,0 -5,0M499.17,82.25a2.5,2.5 0 1,0 5,0a2.5,2.5 0 1,0 -5,0M499.93,81.88a2.5,2.5 0 1,0 5,0a2.5,2.5 0 1,0 -5,0M500.69,82.33a2.5,2.5 0 1,0 5,0a2.5,2.5 0 1,0 -5,0M501.45,83.22a2.5,2.5 0 1,0 5,0a2.5,2.5 0 1,0 -5,0M502.21,82.17a2.5,2.5 0 1,0 5,0a2.5,2.5 0 1,0 -5,0M502.97,82.52a2.5,2.5 0 1,0 5,0a2.5,2.5 0 1,0 -5,0M503.73,82.93a2.5,2.5 0 1,0 5,0a2.5,2.5 0 1,0 -5,0M504.49,82.41a2.5,2.5 0 1,0 5,0a2.5,2.5 0 1,0 -5,0M505.25,82.02a2.5,2.5 0 1,0 5,0a2.5,2.5 0 1,0 -5,0M506.01,82.72a2.5,2.5 0 1,0 5,0a2.5,2.5 0 1,0 -5,0M506.77,83.96a2.5,2.5 0 1,0 5,0a2.5,2.5 0 1,0 -5,0M507.53,82.54a2.5,2.5 0 1,0 5,0a2.5,2.5 0 1,0 -5,0M508.29,83.33a2.5,2.5 0 1,0 5,0a2.5,2.5 0 1,0 -5,0M509.05,84.40a2.5,2.5 0 1,0 5,0a2.5,2.5 0 1,0 -5,0M509.80,84.29a2.5,2.5 0 1,0 5,0a2.5,2.5 0 1,0 -5,0M510.56,83.77a2.5,2.5 0 1,0 5,0a2.5,2.5 0 1,0 -5,0M511.32,84.16a2.5,2.5 0 1,0 5,0a2.5,2.5 0 1,0 -5,0M512.08,83.68a2.5,2.5 0 1,0 5,0a2.5,2.5 0 1,0 -5,0M512.84,82.79a2.5,2.5 0 1,0 5,0a2.5,2.5 0 1,0 -5,0M513.60,82.53a2.5,2.5 0 1,0 5,0a2.5,2.5 0 1,0 -5,0M514.36,83.12a2.5,2.5 0 1,0 5,0a2.5,2.5 0 1,0 -5,0M515.12,84.16a2.5,2.5 0 1,0 5,0a2.5,2.5 0 1,0 -5,0M515.88,83.44a2.5,2.5 0 1,0 5,0a2.5,2.5 0 1,0 -5,0M516.64,83.45a2.5,2.5 0 1,0 5,0a2.5,2.5 0 1,0 -5,0M517.40,83.76a2.5,2.5 0 1,0 5,0a2.5,2.5 0 1,0 -5,0M518.16,83.51a2.5,2.5 0 1,0 5,0a2.5,2.5 0 1,0 -5,0M518.92,84.53a2.5,2.5 0 1,0 5,0a2.5,2.5 0 1,0 -5,0M519.68,84.00a2.5,2.5 0 1,0 5,0a2.5,2.5 0 1,0 -5,0M520.44,84.97a2.5,2.5 0 1,0 5,0a2.5,2.5 0 1,0 -5,0M521.19,83.31a2.5,2.5 0 1,0 5,0a2.5,2.5 0 1,0 -5,0M521.95,84.86a2.5,2.5 0 1,0 5,0a2.5,2.5 0 1,0 -5,0M522.71,84.21a2.5,2.5 0 1,0 5,0a2.5,2.5 0 1,0 -5,0M523.47,83.38a2.5,2.5 0 1,0 5,0a2.5,2.5 0 1,0 -5,0M524.23,84.97a2.5,2.5 0 1,0 5,0a2.5,2.5 0 1,0 -5,0M524.99,84.44a2.5,2.5 0 1,0 5,0a2.5,2.5 0 1,0 -5,0M525.75,83.42a2.5,2.5 0 1,0 5,0a2.5,2.5 0 1,0 -5,0M526.51,84.46a2.5,2.5 0 1,0 5,0a2.5,2.5 0 1,0 -5,0M527.27,85.45a2.5,2.5 0 1,0 5,0a2.5,2.5 0 1,0 -5,0M528.03,85.32a2.5,2.5 0 1,0 5,0a2.5,2.5 0 1,0 -5,0M528.79,86.38a2.5,2.5 0 1,0 5,0a2.5,2.5 0 1,0 -5,0" fill="#1a16b8"/>
<line x1="312.6" y1="18.4" x2="312.6" y2="201.79999999999998" stroke="#111" stroke-width="1.3"/>
<line x1="312.0" y1="201.2" x2="540.4" y2="201.2" stroke="#111" stroke-width="1.3"/>
<line x1="308.1" y1="201.20" x2="312.6" y2="201.20" stroke="#111" stroke-width="1.2"/>
<text x="307.8" y="204.80" text-anchor="end" style="font-family:'Liberation Sans',sans-serif;font-weight:bold;font-size:10px" fill="#111">0.0</text>
<line x1="310.0" y1="185.98" x2="312.6" y2="185.98" stroke="#111" stroke-width="1.2"/>
<line x1="310.0" y1="170.76" x2="312.6" y2="170.76" stroke="#111" stroke-width="1.2"/>
<line x1="310.0" y1="155.54" x2="312.6" y2="155.54" stroke="#111" stroke-width="1.2"/>
<line x1="310.0" y1="140.32" x2="312.6" y2="140.32" stroke="#111" stroke-width="1.2"/>
<line x1="308.1" y1="125.10" x2="312.6" y2="125.10" stroke="#111" stroke-width="1.2"/>
<text x="307.8" y="128.70" text-anchor="end" style="font-family:'Liberation Sans',sans-serif;font-weight:bold;font-size:10px" fill="#111">0.5</text>
<line x1="310.0" y1="109.88" x2="312.6" y2="109.88" stroke="#111" stroke-width="1.2"/>
<line x1="310.0" y1="94.66" x2="312.6" y2="94.66" stroke="#111" stroke-width="1.2"/>
<line x1="310.0" y1="79.44" x2="312.6" y2="79.44" stroke="#111" stroke-width="1.2"/>
<line x1="310.0" y1="64.22" x2="312.6" y2="64.22" stroke="#111" stroke-width="1.2"/>
<line x1="308.1" y1="49.00" x2="312.6" y2="49.00" stroke="#111" stroke-width="1.2"/>
<text x="307.8" y="52.60" text-anchor="end" style="font-family:'Liberation Sans',sans-serif;font-weight:bold;font-size:10px" fill="#111">1.0</text>
<line x1="310.0" y1="33.78" x2="312.6" y2="33.78" stroke="#111" stroke-width="1.2"/>
<line x1="310.0" y1="18.40" x2="312.6" y2="18.40" stroke="#111" stroke-width="1.2"/>
<line x1="312.60" y1="201.2" x2="312.60" y2="205.2" stroke="#111" stroke-width="1.1"/>
<text x="312.60" y="215.5" text-anchor="middle" style="font-family:'Liberation Sans',sans-serif;font-weight:bold;font-size:10px" fill="#111">0</text>
<line x1="320.19" y1="201.2" x2="320.19" y2="203.39999999999998" stroke="#111" stroke-width="1.1"/>
<line x1="327.79" y1="201.2" x2="327.79" y2="203.39999999999998" stroke="#111" stroke-width="1.1"/>
<line x1="335.38" y1="201.2" x2="335.38" y2="203.39999999999998" stroke="#111" stroke-width="1.1"/>
<line x1="342.97" y1="201.2" x2="342.97" y2="203.39999999999998" stroke="#111" stroke-width="1.1"/>
<line x1="350.57" y1="201.2" x2="350.57" y2="203.39999999999998" stroke="#111" stroke-width="1.1"/>
<line x1="358.16" y1="201.2" x2="358.16" y2="203.39999999999998" stroke="#111" stroke-width="1.1"/>
<line x1="365.75" y1="201.2" x2="365.75" y2="203.39999999999998" stroke="#111" stroke-width="1.1"/>
<line x1="373.35" y1="201.2" x2="373.35" y2="203.39999999999998" stroke="#111" stroke-width="1.1"/>
<line x1="380.94" y1="201.2" x2="380.94" y2="203.39999999999998" stroke="#111" stroke-width="1.1"/>
<line x1="388.53" y1="201.2" x2="388.53" y2="205.2" stroke="#111" stroke-width="1.1"/>
<text x="388.53" y="215.5" text-anchor="middle" style="font-family:'Liberation Sans',sans-serif;font-weight:bold;font-size:10px" fill="#111">100</text>
<line x1="396.13" y1="201.2" x2="396.13" y2="203.39999999999998" stroke="#111" stroke-width="1.1"/>
<line x1="403.72" y1="201.2" x2="403.72" y2="203.39999999999998" stroke="#111" stroke-width="1.1"/>
<line x1="411.31" y1="201.2" x2="411.31" y2="203.39999999999998" stroke="#111" stroke-width="1.1"/>
<line x1="418.91" y1="201.2" x2="418.91" y2="203.39999999999998" stroke="#111" stroke-width="1.1"/>
<line x1="426.50" y1="201.2" x2="426.50" y2="203.39999999999998" stroke="#111" stroke-width="1.1"/>
<line x1="434.09" y1="201.2" x2="434.09" y2="203.39999999999998" stroke="#111" stroke-width="1.1"/>
<line x1="441.69" y1="201.2" x2="441.69" y2="203.39999999999998" stroke="#111" stroke-width="1.1"/>
<line x1="449.28" y1="201.2" x2="449.28" y2="203.39999999999998" stroke="#111" stroke-width="1.1"/>
<line x1="456.87" y1="201.2" x2="456.87" y2="203.39999999999998" stroke="#111" stroke-width="1.1"/>
<line x1="464.47" y1="201.2" x2="464.47" y2="205.2" stroke="#111" stroke-width="1.1"/>
<text x="464.47" y="215.5" text-anchor="middle" style="font-family:'Liberation Sans',sans-serif;font-weight:bold;font-size:10px" fill="#111">200</text>
<line x1="472.06" y1="201.2" x2="472.06" y2="203.39999999999998" stroke="#111" stroke-width="1.1"/>
<line x1="479.65" y1="201.2" x2="479.65" y2="203.39999999999998" stroke="#111" stroke-width="1.1"/>
<line x1="487.25" y1="201.2" x2="487.25" y2="203.39999999999998" stroke="#111" stroke-width="1.1"/>
<line x1="494.84" y1="201.2" x2="494.84" y2="203.39999999999998" stroke="#111" stroke-width="1.1"/>
<line x1="502.43" y1="201.2" x2="502.43" y2="203.39999999999998" stroke="#111" stroke-width="1.1"/>
<line x1="510.03" y1="201.2" x2="510.03" y2="203.39999999999998" stroke="#111" stroke-width="1.1"/>
<line x1="517.62" y1="201.2" x2="517.62" y2="203.39999999999998" stroke="#111" stroke-width="1.1"/>
<line x1="525.21" y1="201.2" x2="525.21" y2="203.39999999999998" stroke="#111" stroke-width="1.1"/>
<line x1="532.81" y1="201.2" x2="532.81" y2="203.39999999999998" stroke="#111" stroke-width="1.1"/>
<line x1="540.40" y1="201.2" x2="540.40" y2="205.2" stroke="#111" stroke-width="1.1"/>
<text x="540.40" y="215.5" text-anchor="middle" style="font-family:'Liberation Sans',sans-serif;font-weight:bold;font-size:10px" fill="#111">300</text>
<text transform="translate(349.6,243.1) scale(1,0.93)" style="font-family:'Liberation Sans',sans-serif;font-weight:bold;font-size:10.4px" fill="#111">Number of Pulses at 75 mJ/cm<tspan dy="-4" font-size="7px">2</tspan></text>
<text transform="translate(290.5,106.2) rotate(-90)" text-anchor="middle" style="font-family:'Liberation Sans',sans-serif;font-weight:bold;font-size:10.6px" fill="#111">Normalized US Intensity (AU)</text>
<circle cx="353.7" cy="10.6" r="2.1" fill="#14108c"/>
<text transform="translate(363.6,13.3) scale(1,1.08)" style="font-family:'Liberation Sans',sans-serif;font-size:9.8px" fill="#111">Polyacrylamide</text>
<circle cx="468.2" cy="10.9" r="2.0" fill="none" stroke="#e8c888" stroke-width="1"/>
<text transform="translate(477.8,13.4) scale(1,1.08)" style="font-family:'Liberation Sans',sans-serif;font-size:9.8px" fill="#111">Tube</text>
<text x="442.8" y="282.6" text-anchor="middle" style="font-family:'Liberation Serif',serif;font-size:16.2px" fill="#111">(<tspan font-weight="bold">B</tspan>)</text>
</svg>
</body></html>
